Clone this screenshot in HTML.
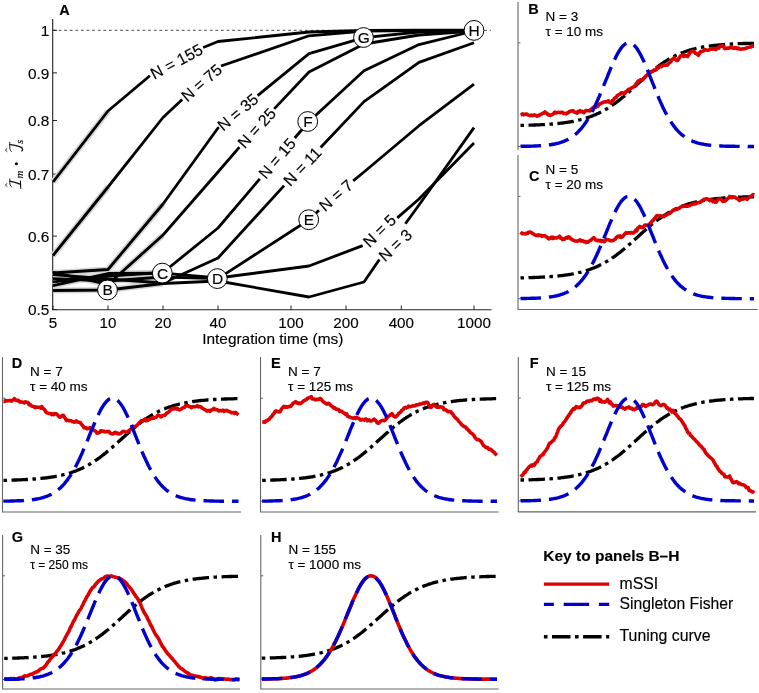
<!DOCTYPE html>
<html><head><meta charset="utf-8"><style>
html,body{margin:0;padding:0;background:#fff;width:759px;height:693px;overflow:hidden;}
svg{display:block;} text{stroke:#000;stroke-width:0.15px;} svg{font-family:"Liberation Sans", sans-serif;will-change:transform;}
</style></head><body>
<svg width="759" height="693" viewBox="0 0 759 693" font-family='"Liberation Sans", sans-serif' fill="#000">
<line x1="52.7" y1="19" x2="52.7" y2="310" stroke="#222" stroke-width="1.1"/>
<line x1="52.2" y1="309.8" x2="491.5" y2="309.8" stroke="#222" stroke-width="1.1"/>
<line x1="53" y1="30.3" x2="491" y2="30.3" stroke="#333" stroke-width="0.9" stroke-dasharray="2.7,2.9"/>
<line x1="52.7" y1="30.3" x2="57" y2="30.3" stroke="#222" stroke-width="1"/>
<text x="49.3" y="36.0" text-anchor="end" font-size="15.4">1</text>
<line x1="52.7" y1="72.9" x2="57" y2="72.9" stroke="#222" stroke-width="1"/>
<text x="49.3" y="78.6" text-anchor="end" font-size="15.4">0.9</text>
<line x1="52.7" y1="120.5" x2="57" y2="120.5" stroke="#222" stroke-width="1"/>
<text x="49.3" y="126.2" text-anchor="end" font-size="15.4">0.8</text>
<line x1="52.7" y1="174.1" x2="57" y2="174.1" stroke="#222" stroke-width="1"/>
<text x="49.3" y="179.8" text-anchor="end" font-size="15.4">0.7</text>
<line x1="52.7" y1="236.1" x2="57" y2="236.1" stroke="#222" stroke-width="1"/>
<text x="49.3" y="241.8" text-anchor="end" font-size="15.4">0.6</text>
<line x1="52.7" y1="309.5" x2="57" y2="309.5" stroke="#222" stroke-width="1"/>
<text x="49.3" y="315.2" text-anchor="end" font-size="15.4">0.5</text>
<line x1="53.0" y1="309.8" x2="53.0" y2="305.5" stroke="#222" stroke-width="1"/>
<text x="53.0" y="327.6" text-anchor="middle" font-size="15.2">5</text>
<line x1="108.0" y1="309.8" x2="108.0" y2="305.5" stroke="#222" stroke-width="1"/>
<text x="108.0" y="327.6" text-anchor="middle" font-size="15.2">10</text>
<line x1="163.0" y1="309.8" x2="163.0" y2="305.5" stroke="#222" stroke-width="1"/>
<text x="163.0" y="327.6" text-anchor="middle" font-size="15.2">20</text>
<line x1="218.0" y1="309.8" x2="218.0" y2="305.5" stroke="#222" stroke-width="1"/>
<text x="218.0" y="327.6" text-anchor="middle" font-size="15.2">40</text>
<line x1="291.0" y1="309.8" x2="291.0" y2="305.5" stroke="#222" stroke-width="1"/>
<text x="291.0" y="327.6" text-anchor="middle" font-size="15.2">100</text>
<line x1="346.0" y1="309.8" x2="346.0" y2="305.5" stroke="#222" stroke-width="1"/>
<text x="346.0" y="327.6" text-anchor="middle" font-size="15.2">200</text>
<line x1="401.3" y1="309.8" x2="401.3" y2="305.5" stroke="#222" stroke-width="1"/>
<text x="401.3" y="327.6" text-anchor="middle" font-size="15.2">400</text>
<line x1="474.0" y1="309.8" x2="474.0" y2="305.5" stroke="#222" stroke-width="1"/>
<text x="474.0" y="327.6" text-anchor="middle" font-size="15.2">1000</text>
<text x="272.8" y="344.3" text-anchor="middle" font-size="15.4">Integration time (ms)</text>
<text x="59.2" y="14.5" font-size="14.5" font-weight="bold">A</text>
<g transform="translate(21.2,188.6) rotate(-90)" fill="none" stroke="#111" stroke-linecap="round"><path d="M2.2,-14.2 L3.6,-15.8 L5.0,-14.2" stroke-width="0.9"/><path d="M1.8,-9.6 C2.2,-11.4 5.5,-11.6 9.6,-11.4" stroke-width="1.0"/><path d="M7.4,-11.2 C6.6,-7 5.6,-3.5 4.2,-0.6" stroke-width="1.3"/><path d="M0.2,-0.4 C3,-0.9 5.5,-0.6 7.6,-0.8" stroke-width="1.1"/></g>
<g transform="translate(21.2,188.6) rotate(-90)" font-family="'Liberation Serif', serif" font-style="italic"><text x="10.2" y="2.2" font-size="11">m</text><circle cx="24.8" cy="-4.8" r="1.5" fill="#000"/><text x="44.6" y="2.2" font-size="11">s</text></g>
<g transform="translate(21.2,188.6) rotate(-90)" fill="none" stroke="#111" stroke-linecap="round"><path d="M37.2,-14.2 L38.6,-15.8 L40.0,-14.2" stroke-width="0.9"/><path d="M37.0,-9.8 C37.6,-11.6 41.5,-11.6 46.3,-11.4" stroke-width="1.0"/><path d="M44.0,-11.3 C43.4,-7 42.6,-2.5 41.2,0.2 C40.2,1.6 38.2,1.6 37.6,0.6" stroke-width="1.3"/></g>
<polyline points="53.0,182.0 108.0,111.0" fill="none" stroke="#d4d4d4" stroke-width="6" stroke-linejoin="round"/>
<polyline points="53.0,255.5 108.0,187.0" fill="none" stroke="#d4d4d4" stroke-width="6" stroke-linejoin="round"/>
<polyline points="53.0,273.0 108.0,269.5 163.0,204.0" fill="none" stroke="#d4d4d4" stroke-width="6" stroke-linejoin="round"/>
<polyline points="53.0,272.3 108.0,284.5 163.0,235.0" fill="none" stroke="#d4d4d4" stroke-width="6" stroke-linejoin="round"/>
<polyline points="53.0,281.8 108.0,276.0 163.0,272.5" fill="none" stroke="#d4d4d4" stroke-width="6" stroke-linejoin="round"/>
<polyline points="53.0,274.6 108.0,279.0 163.0,283.0" fill="none" stroke="#d4d4d4" stroke-width="6" stroke-linejoin="round"/>
<polyline points="53.0,278.6 108.0,281.0 163.0,277.0" fill="none" stroke="#d4d4d4" stroke-width="6" stroke-linejoin="round"/>
<polyline points="53.0,285.7 108.0,273.5 163.0,273.1" fill="none" stroke="#d4d4d4" stroke-width="6" stroke-linejoin="round"/>
<polyline points="53.0,290.5 108.0,290.0 163.0,283.5" fill="none" stroke="#d4d4d4" stroke-width="6" stroke-linejoin="round"/>
<polyline points="53.0,182.0 108.0,111.0 149.9,75.8" fill="none" stroke="#000" stroke-width="2.8" stroke-linejoin="round"/>
<polyline points="203.2,47.5 218.0,41.5 309.0,32.0 364.0,30.5 419.0,30.2 474.0,30.4" fill="none" stroke="#000" stroke-width="2.8" stroke-linejoin="round"/>
<g transform="translate(176.6,61.6) rotate(-28.0)"><text x="0" y="5.5" text-anchor="middle" font-size="16">N = 155</text></g>
<polyline points="53.0,255.5 108.0,187.0 163.0,117.5 182.2,99.6" fill="none" stroke="#000" stroke-width="2.8" stroke-linejoin="round"/>
<polyline points="221.0,66.0 309.0,35.8 364.0,31.0 419.0,30.5 474.0,30.2" fill="none" stroke="#000" stroke-width="2.8" stroke-linejoin="round"/>
<g transform="translate(201.6,82.8) rotate(-40.9)"><text x="0" y="5.5" text-anchor="middle" font-size="16">N = 75</text></g>
<polyline points="53.0,273.0 108.0,269.5 163.0,204.0 218.0,128.0 218.2,128.9" fill="none" stroke="#000" stroke-width="2.8" stroke-linejoin="round"/>
<polyline points="257.6,95.6 309.0,53.6 364.0,37.7 419.0,32.0 474.0,30.5" fill="none" stroke="#000" stroke-width="2.8" stroke-linejoin="round"/>
<g transform="translate(237.9,112.2) rotate(-40.2)"><text x="0" y="5.5" text-anchor="middle" font-size="16">N = 35</text></g>
<polyline points="53.0,272.3 108.0,284.5 163.0,235.0 218.0,172.0 239.4,147.1" fill="none" stroke="#000" stroke-width="2.8" stroke-linejoin="round"/>
<polyline points="274.2,108.9 309.0,72.0 364.0,44.0 419.0,35.0 474.0,31.0" fill="none" stroke="#000" stroke-width="2.8" stroke-linejoin="round"/>
<g transform="translate(256.8,128.0) rotate(-47.7)"><text x="0" y="5.5" text-anchor="middle" font-size="16">N = 25</text></g>
<polyline points="53.0,281.8 108.0,276.0 163.0,272.5 218.0,228.0 259.8,178.9" fill="none" stroke="#000" stroke-width="2.8" stroke-linejoin="round"/>
<polyline points="294.7,138.0 309.0,121.5 364.0,70.7 419.0,44.6 474.0,31.0" fill="none" stroke="#000" stroke-width="2.8" stroke-linejoin="round"/>
<g transform="translate(277.2,158.4) rotate(-49.5)"><text x="0" y="5.5" text-anchor="middle" font-size="16">N = 15</text></g>
<polyline points="53.0,274.6 108.0,279.0 163.0,283.0 218.0,258.0 284.1,185.6" fill="none" stroke="#000" stroke-width="2.8" stroke-linejoin="round"/>
<polyline points="320.6,147.5 364.0,101.6 419.0,62.4 474.0,42.7" fill="none" stroke="#000" stroke-width="2.8" stroke-linejoin="round"/>
<g transform="translate(302.4,166.6) rotate(-46.2)"><text x="0" y="5.5" text-anchor="middle" font-size="16">N = 11</text></g>
<polyline points="53.0,278.6 108.0,281.0 163.0,277.0 218.0,278.6 309.0,219.7 319.0,210.2" fill="none" stroke="#000" stroke-width="2.8" stroke-linejoin="round"/>
<polyline points="353.2,180.8 364.0,172.0 419.0,125.7 474.0,84.2" fill="none" stroke="#000" stroke-width="2.8" stroke-linejoin="round"/>
<g transform="translate(336.1,195.5) rotate(-40.7)"><text x="0" y="5.5" text-anchor="middle" font-size="16">N = 7</text></g>
<polyline points="53.0,285.7 108.0,273.5 163.0,273.1 218.0,278.0 309.0,266.0 362.7,245.6" fill="none" stroke="#000" stroke-width="2.8" stroke-linejoin="round"/>
<polyline points="397.3,217.9 419.0,199.0 474.0,143.0" fill="none" stroke="#000" stroke-width="2.8" stroke-linejoin="round"/>
<g transform="translate(379.5,230.8) rotate(-44.0)"><text x="0" y="5.5" text-anchor="middle" font-size="16">N = 5</text></g>
<polyline points="53.0,290.5 108.0,290.0 163.0,283.5 218.0,281.0 309.0,297.0 364.0,282.0 379.4,259.5" fill="none" stroke="#000" stroke-width="2.8" stroke-linejoin="round"/>
<polyline points="405.4,223.7 419.0,205.0 474.0,127.6" fill="none" stroke="#000" stroke-width="2.8" stroke-linejoin="round"/>
<g transform="translate(395.3,245.3) rotate(-43.0)"><text x="0" y="5.5" text-anchor="middle" font-size="16">N = 3</text></g>
<circle cx="107.5" cy="290.0" r="9.9" fill="#fff" stroke="#000" stroke-width="1"/>
<text x="107.7" y="295.4" text-anchor="middle" font-size="15.5">B</text>
<circle cx="162.3" cy="273.1" r="9.9" fill="#fff" stroke="#000" stroke-width="1"/>
<text x="162.5" y="278.5" text-anchor="middle" font-size="15.5">C</text>
<circle cx="217.3" cy="278.6" r="9.9" fill="#fff" stroke="#000" stroke-width="1"/>
<text x="217.5" y="284.0" text-anchor="middle" font-size="15.5">D</text>
<circle cx="308.7" cy="219.7" r="9.9" fill="#fff" stroke="#000" stroke-width="1"/>
<text x="308.9" y="225.1" text-anchor="middle" font-size="15.5">E</text>
<circle cx="307.7" cy="121.5" r="9.9" fill="#fff" stroke="#000" stroke-width="1"/>
<text x="307.9" y="126.9" text-anchor="middle" font-size="15.5">F</text>
<circle cx="363.5" cy="37.5" r="9.9" fill="#fff" stroke="#000" stroke-width="1"/>
<text x="363.7" y="42.9" text-anchor="middle" font-size="15.5">G</text>
<circle cx="474.0" cy="30.4" r="9.9" fill="#fff" stroke="#000" stroke-width="1"/>
<text x="474.2" y="35.8" text-anchor="middle" font-size="15.5">H</text>
<line x1="518.0" y1="2.0" x2="518.0" y2="150.0" stroke="#666" stroke-width="1.1"/>
<line x1="518.0" y1="42.8" x2="520.5" y2="42.8" stroke="#666" stroke-width="1"/>
<line x1="518.0" y1="146.5" x2="520.5" y2="146.5" stroke="#666" stroke-width="1"/>
<text x="528.2" y="13.8" font-size="14.5" font-weight="bold">B</text>
<text x="545.6" y="20.6" font-size="13.5">N = 3</text>
<text x="545.6" y="36.3" font-size="13.5">τ = 10 ms</text>
<polyline points="520.5,125.4 521.5,125.4 522.5,125.4 523.4,125.3 524.4,125.3 525.4,125.3 526.4,125.3 527.3,125.2 528.3,125.2 529.3,125.2 530.3,125.1 531.2,125.1 532.2,125.1 533.2,125.1 534.2,125.0 535.2,125.0 536.1,124.9 537.1,124.9 538.1,124.9 539.1,124.8 540.0,124.8 541.0,124.7 542.0,124.7 543.0,124.6 543.9,124.6 544.9,124.5 545.9,124.4 546.9,124.4 547.9,124.3 548.8,124.3 549.8,124.2 550.8,124.1 551.8,124.0 552.7,124.0 553.7,123.9 554.7,123.8 555.7,123.7 556.6,123.6 557.6,123.5 558.6,123.4 559.6,123.3 560.6,123.2 561.5,123.1 562.5,123.0 563.5,122.8 564.5,122.7 565.4,122.6 566.4,122.4 567.4,122.3 568.4,122.1 569.3,122.0 570.3,121.8 571.3,121.6 572.3,121.5 573.3,121.3 574.2,121.1 575.2,120.9 576.2,120.7 577.2,120.5 578.1,120.2 579.1,120.0 580.1,119.8 581.1,119.5 582.1,119.3 583.0,119.0 584.0,118.7 585.0,118.4 586.0,118.1 586.9,117.8 587.9,117.5 588.9,117.2 589.9,116.8 590.8,116.5 591.8,116.1 592.8,115.7 593.8,115.3 594.8,114.9 595.7,114.5 596.7,114.1 597.7,113.6 598.7,113.2 599.6,112.7 600.6,112.2 601.6,111.7 602.6,111.2 603.5,110.7 604.5,110.1 605.5,109.6 606.5,109.0 607.5,108.4 608.4,107.8 609.4,107.2 610.4,106.5 611.4,105.9 612.3,105.2 613.3,104.5 614.3,103.8 615.3,103.1 616.2,102.4 617.2,101.7 618.2,100.9 619.2,100.1 620.2,99.4 621.1,98.6 622.1,97.8 623.1,97.0 624.1,96.2 625.0,95.3 626.0,94.5 627.0,93.6 628.0,92.8 628.9,91.9 629.9,91.0 630.9,90.1 631.9,89.3 632.9,88.4 633.8,87.5 634.8,86.6 635.8,85.7 636.8,84.8 637.7,83.9 638.7,83.0 639.7,82.1 640.7,81.2 641.6,80.3 642.6,79.4 643.6,78.5 644.6,77.6 645.6,76.8 646.5,75.9 647.5,75.0 648.5,74.2 649.5,73.3 650.4,72.5 651.4,71.7 652.4,70.9 653.4,70.1 654.3,69.3 655.3,68.5 656.3,67.8 657.3,67.0 658.3,66.3 659.2,65.5 660.2,64.8 661.2,64.1 662.2,63.5 663.1,62.8 664.1,62.1 665.1,61.5 666.1,60.9 667.0,60.3 668.0,59.7 669.0,59.1 670.0,58.6 671.0,58.0 671.9,57.5 672.9,57.0 673.9,56.5 674.9,56.0 675.8,55.5 676.8,55.0 677.8,54.6 678.8,54.2 679.7,53.7 680.7,53.3 681.7,52.9 682.7,52.6 683.7,52.2 684.6,51.8 685.6,51.5 686.6,51.2 687.6,50.8 688.5,50.5 689.5,50.2 690.5,49.9 691.5,49.7 692.4,49.4 693.4,49.1 694.4,48.9 695.4,48.7 696.4,48.4 697.3,48.2 698.3,48.0 699.3,47.8 700.3,47.6 701.2,47.4 702.2,47.2 703.2,47.0 704.2,46.9 705.2,46.7 706.1,46.5 707.1,46.4 708.1,46.2 709.1,46.1 710.0,46.0 711.0,45.8 712.0,45.7 713.0,45.6 713.9,45.5 714.9,45.4 715.9,45.3 716.9,45.2 717.9,45.1 718.8,45.0 719.8,44.9 720.8,44.8 721.8,44.7 722.7,44.6 723.7,44.6 724.7,44.5 725.7,44.4 726.6,44.3 727.6,44.3 728.6,44.2 729.6,44.2 730.6,44.1 731.5,44.0 732.5,44.0 733.5,43.9 734.5,43.9 735.4,43.9 736.4,43.8 737.4,43.8 738.4,43.7 739.3,43.7 740.3,43.6 741.3,43.6 742.3,43.6 743.3,43.5 744.2,43.5 745.2,43.5 746.2,43.5 747.2,43.4 748.1,43.4 749.1,43.4 750.1,43.4 751.1,43.3 752.0,43.3 753.0,43.3 754.0,43.3" fill="none" stroke="#000" stroke-width="3.3" stroke-dasharray="16.5,4.5,3.5,4.5" stroke-dashoffset="21"/>
<polyline points="520.5,114.9 521.5,114.6 522.5,113.8 523.4,114.8 524.4,114.2 525.4,114.3 526.4,114.0 527.3,114.4 528.3,115.1 529.3,115.4 530.3,115.6 531.2,115.0 532.2,115.6 533.2,115.4 534.2,114.9 535.2,115.2 536.1,115.5 537.1,116.1 538.1,115.7 539.1,115.5 540.0,114.4 541.0,114.2 542.0,113.9 543.0,113.1 543.9,113.0 544.9,111.9 545.9,113.0 546.9,113.4 547.9,114.8 548.8,114.5 549.8,115.3 550.8,115.4 551.8,114.7 552.7,114.4 553.7,113.5 554.7,112.1 555.7,113.0 556.6,112.8 557.6,112.5 558.6,112.3 559.6,112.6 560.6,112.6 561.5,112.3 562.5,112.4 563.5,113.4 564.5,113.3 565.4,113.6 566.4,113.9 567.4,112.8 568.4,112.8 569.3,111.5 570.3,111.4 571.3,111.0 572.3,110.8 573.3,110.7 574.2,112.1 575.2,112.4 576.2,112.5 577.2,113.1 578.1,111.3 579.1,111.8 580.1,110.6 581.1,111.7 582.1,111.4 583.0,112.1 584.0,112.6 585.0,111.0 586.0,110.5 586.9,110.7 587.9,110.8 588.9,110.7 589.9,110.9 590.8,109.4 591.8,109.0 592.8,107.7 593.8,107.1 594.8,107.0 595.7,107.3 596.7,106.3 597.7,106.4 598.7,104.9 599.6,104.2 600.6,103.5 601.6,103.0 602.6,102.7 603.5,102.1 604.5,102.0 605.5,101.7 606.5,101.9 607.5,101.4 608.4,100.8 609.4,102.2 610.4,102.9 611.4,102.3 612.3,100.6 613.3,100.4 614.3,98.5 615.3,97.7 616.2,97.4 617.2,95.6 618.2,95.1 619.2,94.4 620.2,94.1 621.1,92.9 622.1,93.0 623.1,92.9 624.1,93.4 625.0,93.5 626.0,91.4 627.0,91.2 628.0,89.8 628.9,89.2 629.9,88.9 630.9,88.6 631.9,87.7 632.9,87.4 633.8,86.7 634.8,85.9 635.8,84.4 636.8,83.2 637.7,81.8 638.7,80.7 639.7,80.6 640.7,79.7 641.6,79.7 642.6,80.0 643.6,78.7 644.6,77.5 645.6,76.4 646.5,75.3 647.5,74.8 648.5,72.8 649.5,72.9 650.4,71.9 651.4,71.9 652.4,71.6 653.4,70.7 654.3,69.9 655.3,70.2 656.3,69.6 657.3,67.9 658.3,68.0 659.2,67.0 660.2,66.1 661.2,66.7 662.2,66.4 663.1,65.0 664.1,65.0 665.1,65.2 666.1,65.1 667.0,65.3 668.0,64.6 669.0,63.0 670.0,62.4 671.0,61.6 671.9,59.7 672.9,59.0 673.9,57.9 674.9,59.1 675.8,59.7 676.8,60.6 677.8,60.3 678.8,58.4 679.7,57.5 680.7,55.7 681.7,55.6 682.7,54.9 683.7,56.4 684.6,55.5 685.6,55.9 686.6,55.9 687.6,56.6 688.5,55.1 689.5,53.3 690.5,52.3 691.5,51.2 692.4,51.6 693.4,51.3 694.4,52.0 695.4,53.3 696.4,53.3 697.3,54.3 698.3,55.3 699.3,53.4 700.3,51.8 701.2,51.6 702.2,51.5 703.2,51.0 704.2,49.8 705.2,49.8 706.1,50.0 707.1,50.2 708.1,50.3 709.1,49.9 710.0,49.4 711.0,49.1 712.0,49.1 713.0,48.5 713.9,49.1 714.9,48.5 715.9,49.5 716.9,48.6 717.9,48.0 718.8,48.1 719.8,46.4 720.8,46.0 721.8,46.4 722.7,45.6 723.7,46.5 724.7,48.6 725.7,48.2 726.6,48.5 727.6,48.1 728.6,48.2 729.6,47.6 730.6,47.8 731.5,47.5 732.5,48.1 733.5,48.4 734.5,47.5 735.4,48.1 736.4,47.8 737.4,48.8 738.4,48.0 739.3,48.8 740.3,49.1 741.3,49.0 742.3,49.0 743.3,48.7 744.2,48.7 745.2,48.6 746.2,48.3 747.2,47.5 748.1,47.5 749.1,47.3 750.1,47.1 751.1,46.9 752.0,45.8 753.0,46.2 754.0,46.3" fill="none" stroke="#dd0000" stroke-width="3.6" stroke-linejoin="round"/>
<polyline points="520.5,146.4 521.5,146.3 522.5,146.3 523.4,146.3 524.4,146.3 525.4,146.3 526.4,146.3 527.3,146.2 528.3,146.2 529.3,146.2 530.3,146.2 531.2,146.1 532.2,146.1 533.2,146.1 534.2,146.0 535.2,146.0 536.1,146.0 537.1,145.9 538.1,145.9 539.1,145.8 540.0,145.7 541.0,145.7 542.0,145.6 543.0,145.5 543.9,145.5 544.9,145.4 545.9,145.3 546.9,145.2 547.9,145.1 548.8,144.9 549.8,144.8 550.8,144.7 551.8,144.5 552.7,144.3 553.7,144.2 554.7,144.0 555.7,143.8 556.6,143.5 557.6,143.3 558.6,143.1 559.6,142.8 560.6,142.5 561.5,142.2 562.5,141.8 563.5,141.5 564.5,141.1 565.4,140.6 566.4,140.2 567.4,139.7 568.4,139.2 569.3,138.7 570.3,138.1 571.3,137.4 572.3,136.8 573.3,136.1 574.2,135.3 575.2,134.5 576.2,133.7 577.2,132.8 578.1,131.8 579.1,130.8 580.1,129.8 581.1,128.7 582.1,127.5 583.0,126.3 584.0,125.0 585.0,123.6 586.0,122.2 586.9,120.7 587.9,119.2 588.9,117.5 589.9,115.8 590.8,114.1 591.8,112.3 592.8,110.4 593.8,108.4 594.8,106.4 595.7,104.4 596.7,102.2 597.7,100.1 598.7,97.8 599.6,95.6 600.6,93.2 601.6,90.9 602.6,88.5 603.5,86.1 604.5,83.7 605.5,81.2 606.5,78.8 607.5,76.4 608.4,74.0 609.4,71.6 610.4,69.2 611.4,66.9 612.3,64.6 613.3,62.4 614.3,60.3 615.3,58.2 616.2,56.3 617.2,54.4 618.2,52.6 619.2,51.0 620.2,49.5 621.1,48.1 622.1,46.9 623.1,45.8 624.1,44.9 625.0,44.1 626.0,43.6 627.0,43.1 628.0,42.9 628.9,42.8 629.9,42.9 630.9,43.2 631.9,43.6 632.9,44.2 633.8,45.0 634.8,46.0 635.8,47.1 636.8,48.3 637.7,49.8 638.7,51.3 639.7,53.0 640.7,54.8 641.6,56.7 642.6,58.7 643.6,60.8 644.6,63.0 645.6,65.3 646.5,67.6 647.5,70.0 648.5,72.4 649.5,74.8 650.4,77.3 651.4,79.8 652.4,82.3 653.4,84.8 654.3,87.2 655.3,89.7 656.3,92.1 657.3,94.5 658.3,96.8 659.2,99.1 660.2,101.4 661.2,103.6 662.2,105.7 663.1,107.8 664.1,109.8 665.1,111.8 666.1,113.6 667.0,115.4 668.0,117.2 669.0,118.9 670.0,120.5 671.0,122.0 671.9,123.4 672.9,124.8 673.9,126.2 674.9,127.4 675.8,128.6 676.8,129.8 677.8,130.8 678.8,131.9 679.7,132.8 680.7,133.7 681.7,134.6 682.7,135.4 683.7,136.1 684.6,136.9 685.6,137.5 686.6,138.2 687.6,138.7 688.5,139.3 689.5,139.8 690.5,140.3 691.5,140.7 692.4,141.2 693.4,141.5 694.4,141.9 695.4,142.2 696.4,142.6 697.3,142.9 698.3,143.1 699.3,143.4 700.3,143.6 701.2,143.8 702.2,144.0 703.2,144.2 704.2,144.4 705.2,144.6 706.1,144.7 707.1,144.9 708.1,145.0 709.1,145.1 710.0,145.2 711.0,145.3 712.0,145.4 713.0,145.5 713.9,145.6 714.9,145.6 715.9,145.7 716.9,145.8 717.9,145.8 718.8,145.9 719.8,145.9 720.8,146.0 721.8,146.0 722.7,146.1 723.7,146.1 724.7,146.1 725.7,146.2 726.6,146.2 727.6,146.2 728.6,146.2 729.6,146.3 730.6,146.3 731.5,146.3 732.5,146.3 733.5,146.3 734.5,146.3 735.4,146.4 736.4,146.4 737.4,146.4 738.4,146.4 739.3,146.4 740.3,146.4 741.3,146.4 742.3,146.4 743.3,146.4 744.2,146.4 745.2,146.4 746.2,146.4 747.2,146.4 748.1,146.5 749.1,146.5 750.1,146.5 751.1,146.5 752.0,146.5 753.0,146.5 754.0,146.5" fill="none" stroke="#0000cc" stroke-width="3.4" stroke-dasharray="20.5,8" stroke-dashoffset="0"/>
<line x1="518.0" y1="155.0" x2="518.0" y2="309.5" stroke="#666" stroke-width="1.1"/>
<line x1="517.5" y1="309.5" x2="757.5" y2="309.5" stroke="#666" stroke-width="1.1"/>
<line x1="518.0" y1="196.3" x2="520.5" y2="196.3" stroke="#666" stroke-width="1"/>
<line x1="518.0" y1="298.7" x2="520.5" y2="298.7" stroke="#666" stroke-width="1"/>
<text x="529.0" y="180.6" font-size="14.5" font-weight="bold">C</text>
<text x="545.6" y="173.6" font-size="13.5">N = 5</text>
<text x="545.6" y="189.3" font-size="13.5">τ = 20 ms</text>
<polyline points="520.5,277.9 521.5,277.8 522.5,277.8 523.4,277.8 524.4,277.8 525.4,277.8 526.4,277.7 527.3,277.7 528.3,277.7 529.3,277.6 530.3,277.6 531.2,277.6 532.2,277.6 533.2,277.5 534.2,277.5 535.2,277.4 536.1,277.4 537.1,277.4 538.1,277.3 539.1,277.3 540.0,277.2 541.0,277.2 542.0,277.1 543.0,277.1 543.9,277.0 544.9,277.0 545.9,276.9 546.9,276.9 547.9,276.8 548.8,276.7 549.8,276.7 550.8,276.6 551.8,276.5 552.7,276.4 553.7,276.4 554.7,276.3 555.7,276.2 556.6,276.1 557.6,276.0 558.6,275.9 559.6,275.8 560.6,275.7 561.5,275.6 562.5,275.5 563.5,275.3 564.5,275.2 565.4,275.1 566.4,274.9 567.4,274.8 568.4,274.6 569.3,274.5 570.3,274.3 571.3,274.2 572.3,274.0 573.3,273.8 574.2,273.6 575.2,273.4 576.2,273.2 577.2,273.0 578.1,272.8 579.1,272.5 580.1,272.3 581.1,272.1 582.1,271.8 583.0,271.5 584.0,271.3 585.0,271.0 586.0,270.7 586.9,270.4 587.9,270.1 588.9,269.7 589.9,269.4 590.8,269.0 591.8,268.7 592.8,268.3 593.8,267.9 594.8,267.5 595.7,267.1 596.7,266.7 597.7,266.2 598.7,265.8 599.6,265.3 600.6,264.8 601.6,264.3 602.6,263.8 603.5,263.3 604.5,262.8 605.5,262.2 606.5,261.6 607.5,261.1 608.4,260.5 609.4,259.9 610.4,259.2 611.4,258.6 612.3,257.9 613.3,257.3 614.3,256.6 615.3,255.9 616.2,255.2 617.2,254.4 618.2,253.7 619.2,252.9 620.2,252.2 621.1,251.4 622.1,250.6 623.1,249.8 624.1,249.0 625.0,248.2 626.0,247.3 627.0,246.5 628.0,245.6 628.9,244.8 629.9,243.9 630.9,243.1 631.9,242.2 632.9,241.3 633.8,240.4 634.8,239.5 635.8,238.6 636.8,237.8 637.7,236.9 638.7,236.0 639.7,235.1 640.7,234.2 641.6,233.3 642.6,232.4 643.6,231.6 644.6,230.7 645.6,229.8 646.5,229.0 647.5,228.1 648.5,227.3 649.5,226.5 650.4,225.6 651.4,224.8 652.4,224.0 653.4,223.2 654.3,222.5 655.3,221.7 656.3,220.9 657.3,220.2 658.3,219.5 659.2,218.8 660.2,218.1 661.2,217.4 662.2,216.7 663.1,216.0 664.1,215.4 665.1,214.8 666.1,214.2 667.0,213.6 668.0,213.0 669.0,212.4 670.0,211.9 671.0,211.3 671.9,210.8 672.9,210.3 673.9,209.8 674.9,209.3 675.8,208.8 676.8,208.4 677.8,207.9 678.8,207.5 679.7,207.1 680.7,206.7 681.7,206.3 682.7,205.9 683.7,205.6 684.6,205.2 685.6,204.9 686.6,204.6 687.6,204.2 688.5,203.9 689.5,203.6 690.5,203.4 691.5,203.1 692.4,202.8 693.4,202.6 694.4,202.3 695.4,202.1 696.4,201.8 697.3,201.6 698.3,201.4 699.3,201.2 700.3,201.0 701.2,200.8 702.2,200.6 703.2,200.5 704.2,200.3 705.2,200.1 706.1,200.0 707.1,199.8 708.1,199.7 709.1,199.6 710.0,199.4 711.0,199.3 712.0,199.2 713.0,199.1 713.9,198.9 714.9,198.8 715.9,198.7 716.9,198.6 717.9,198.5 718.8,198.4 719.8,198.4 720.8,198.3 721.8,198.2 722.7,198.1 723.7,198.0 724.7,198.0 725.7,197.9 726.6,197.8 727.6,197.8 728.6,197.7 729.6,197.6 730.6,197.6 731.5,197.5 732.5,197.5 733.5,197.4 734.5,197.4 735.4,197.3 736.4,197.3 737.4,197.3 738.4,197.2 739.3,197.2 740.3,197.1 741.3,197.1 742.3,197.1 743.3,197.0 744.2,197.0 745.2,197.0 746.2,196.9 747.2,196.9 748.1,196.9 749.1,196.9 750.1,196.8 751.1,196.8 752.0,196.8 753.0,196.8 754.0,196.8" fill="none" stroke="#000" stroke-width="3.3" stroke-dasharray="16.5,4.5,3.5,4.5" stroke-dashoffset="21"/>
<polyline points="520.5,232.2 521.5,233.0 522.5,233.6 523.4,233.6 524.4,233.8 525.4,234.0 526.4,233.2 527.3,233.5 528.3,232.3 529.3,232.2 530.3,232.0 531.2,232.7 532.2,232.9 533.2,233.9 534.2,234.7 535.2,234.9 536.1,235.4 537.1,235.6 538.1,234.8 539.1,235.4 540.0,235.4 541.0,235.2 542.0,236.4 543.0,236.1 543.9,235.7 544.9,235.7 545.9,236.8 546.9,237.0 547.9,238.2 548.8,239.0 549.8,238.5 550.8,237.4 551.8,237.1 552.7,238.4 553.7,237.4 554.7,238.1 555.7,237.9 556.6,238.0 557.6,237.4 558.6,237.2 559.6,236.2 560.6,238.1 561.5,238.1 562.5,239.6 563.5,238.9 564.5,239.2 565.4,238.3 566.4,237.4 567.4,238.1 568.4,236.9 569.3,237.0 570.3,238.4 571.3,239.0 572.3,239.8 573.3,240.2 574.2,240.6 575.2,241.0 576.2,241.0 577.2,241.1 578.1,241.0 579.1,240.3 580.1,239.8 581.1,241.0 582.1,240.6 583.0,241.0 584.0,241.6 585.0,241.4 586.0,242.4 586.9,241.8 587.9,242.2 588.9,241.1 589.9,240.8 590.8,240.3 591.8,239.1 592.8,238.6 593.8,237.7 594.8,238.8 595.7,240.1 596.7,240.5 597.7,240.7 598.7,240.2 599.6,240.9 600.6,240.4 601.6,241.3 602.6,240.6 603.5,241.5 604.5,241.7 605.5,240.4 606.5,239.3 607.5,239.7 608.4,239.8 609.4,240.2 610.4,240.8 611.4,240.5 612.3,240.8 613.3,240.4 614.3,239.6 615.3,239.2 616.2,237.5 617.2,236.9 618.2,236.0 619.2,236.8 620.2,235.9 621.1,237.4 622.1,236.9 623.1,235.9 624.1,234.8 625.0,233.8 626.0,232.6 627.0,233.3 628.0,233.1 628.9,232.7 629.9,233.1 630.9,232.5 631.9,232.7 632.9,233.1 633.8,232.7 634.8,231.7 635.8,230.2 636.8,230.8 637.7,228.2 638.7,227.5 639.7,226.4 640.7,227.3 641.6,227.1 642.6,227.6 643.6,226.8 644.6,225.3 645.6,225.0 646.5,225.1 647.5,225.0 648.5,225.1 649.5,224.3 650.4,223.0 651.4,222.0 652.4,220.9 653.4,220.3 654.3,218.8 655.3,217.7 656.3,216.1 657.3,215.5 658.3,216.0 659.2,216.0 660.2,215.7 661.2,216.2 662.2,216.5 663.1,216.5 664.1,216.6 665.1,215.4 666.1,215.2 667.0,214.6 668.0,214.1 669.0,213.7 670.0,213.2 671.0,212.2 671.9,211.5 672.9,210.4 673.9,209.8 674.9,210.0 675.8,209.2 676.8,209.5 677.8,208.8 678.8,208.1 679.7,208.3 680.7,206.9 681.7,206.6 682.7,206.4 683.7,206.2 684.6,206.0 685.6,206.3 686.6,206.0 687.6,206.1 688.5,205.6 689.5,205.7 690.5,204.8 691.5,204.5 692.4,204.3 693.4,204.0 694.4,203.3 695.4,204.0 696.4,203.0 697.3,203.0 698.3,202.8 699.3,202.3 700.3,202.2 701.2,201.6 702.2,200.6 703.2,200.0 704.2,199.3 705.2,199.3 706.1,198.7 707.1,198.8 708.1,199.3 709.1,199.8 710.0,200.6 711.0,199.7 712.0,200.2 713.0,201.6 713.9,200.9 714.9,202.2 715.9,202.3 716.9,201.1 717.9,199.3 718.8,199.0 719.8,198.9 720.8,199.1 721.8,200.0 722.7,201.4 723.7,201.1 724.7,201.2 725.7,200.7 726.6,199.6 727.6,198.7 728.6,197.8 729.6,196.5 730.6,197.3 731.5,197.0 732.5,196.7 733.5,196.9 734.5,197.0 735.4,197.6 736.4,198.2 737.4,198.5 738.4,199.6 739.3,200.5 740.3,199.9 741.3,199.5 742.3,198.8 743.3,199.1 744.2,198.4 745.2,198.6 746.2,198.8 747.2,199.4 748.1,198.0 749.1,197.0 750.1,196.6 751.1,196.4 752.0,195.5 753.0,194.5 754.0,195.2" fill="none" stroke="#dd0000" stroke-width="3.6" stroke-linejoin="round"/>
<polyline points="520.5,298.6 521.5,298.5 522.5,298.5 523.4,298.5 524.4,298.5 525.4,298.5 526.4,298.5 527.3,298.4 528.3,298.4 529.3,298.4 530.3,298.4 531.2,298.3 532.2,298.3 533.2,298.3 534.2,298.2 535.2,298.2 536.1,298.2 537.1,298.1 538.1,298.1 539.1,298.0 540.0,298.0 541.0,297.9 542.0,297.8 543.0,297.7 543.9,297.7 544.9,297.6 545.9,297.5 546.9,297.4 547.9,297.3 548.8,297.2 549.8,297.0 550.8,296.9 551.8,296.7 552.7,296.6 553.7,296.4 554.7,296.2 555.7,296.0 556.6,295.8 557.6,295.5 558.6,295.3 559.6,295.0 560.6,294.7 561.5,294.4 562.5,294.1 563.5,293.7 564.5,293.3 565.4,292.9 566.4,292.5 567.4,292.0 568.4,291.5 569.3,290.9 570.3,290.4 571.3,289.8 572.3,289.1 573.3,288.4 574.2,287.7 575.2,286.9 576.2,286.0 577.2,285.2 578.1,284.2 579.1,283.2 580.1,282.2 581.1,281.1 582.1,279.9 583.0,278.7 584.0,277.4 585.0,276.1 586.0,274.7 586.9,273.2 587.9,271.7 588.9,270.1 589.9,268.4 590.8,266.7 591.8,264.9 592.8,263.0 593.8,261.1 594.8,259.1 595.7,257.1 596.7,255.0 597.7,252.8 598.7,250.6 599.6,248.4 600.6,246.1 601.6,243.8 602.6,241.4 603.5,239.1 604.5,236.7 605.5,234.3 606.5,231.9 607.5,229.5 608.4,227.1 609.4,224.7 610.4,222.4 611.4,220.1 612.3,217.9 613.3,215.7 614.3,213.6 615.3,211.5 616.2,209.6 617.2,207.8 618.2,206.0 619.2,204.4 620.2,202.9 621.1,201.6 622.1,200.4 623.1,199.3 624.1,198.4 625.0,197.6 626.0,197.0 627.0,196.6 628.0,196.4 628.9,196.3 629.9,196.4 630.9,196.7 631.9,197.1 632.9,197.7 633.8,198.5 634.8,199.4 635.8,200.5 636.8,201.8 637.7,203.2 638.7,204.7 639.7,206.4 640.7,208.1 641.6,210.0 642.6,212.0 643.6,214.1 644.6,216.2 645.6,218.5 646.5,220.8 647.5,223.1 648.5,225.5 649.5,227.9 650.4,230.4 651.4,232.8 652.4,235.3 653.4,237.7 654.3,240.2 655.3,242.6 656.3,245.0 657.3,247.3 658.3,249.7 659.2,251.9 660.2,254.2 661.2,256.3 662.2,258.4 663.1,260.5 664.1,262.5 665.1,264.4 666.1,266.2 667.0,268.0 668.0,269.8 669.0,271.4 670.0,273.0 671.0,274.5 671.9,275.9 672.9,277.3 673.9,278.6 674.9,279.9 675.8,281.1 676.8,282.2 677.8,283.2 678.8,284.2 679.7,285.2 680.7,286.1 681.7,286.9 682.7,287.7 683.7,288.5 684.6,289.2 685.6,289.8 686.6,290.5 687.6,291.0 688.5,291.6 689.5,292.1 690.5,292.6 691.5,293.0 692.4,293.4 693.4,293.8 694.4,294.2 695.4,294.5 696.4,294.8 697.3,295.1 698.3,295.4 699.3,295.6 700.3,295.9 701.2,296.1 702.2,296.3 703.2,296.5 704.2,296.6 705.2,296.8 706.1,296.9 707.1,297.1 708.1,297.2 709.1,297.3 710.0,297.4 711.0,297.5 712.0,297.6 713.0,297.7 713.9,297.8 714.9,297.9 715.9,297.9 716.9,298.0 717.9,298.0 718.8,298.1 719.8,298.1 720.8,298.2 721.8,298.2 722.7,298.3 723.7,298.3 724.7,298.3 725.7,298.4 726.6,298.4 727.6,298.4 728.6,298.4 729.6,298.5 730.6,298.5 731.5,298.5 732.5,298.5 733.5,298.5 734.5,298.5 735.4,298.6 736.4,298.6 737.4,298.6 738.4,298.6 739.3,298.6 740.3,298.6 741.3,298.6 742.3,298.6 743.3,298.6 744.2,298.6 745.2,298.6 746.2,298.6 747.2,298.6 748.1,298.7 749.1,298.7 750.1,298.7 751.1,298.7 752.0,298.7 753.0,298.7 754.0,298.7" fill="none" stroke="#0000cc" stroke-width="3.4" stroke-dasharray="20.5,8" stroke-dashoffset="0"/>
<line x1="2.5" y1="357.0" x2="2.5" y2="512.0" stroke="#666" stroke-width="1.1"/>
<line x1="2.0" y1="512.0" x2="241.0" y2="512.0" stroke="#666" stroke-width="1.1"/>
<line x1="2.5" y1="398.2" x2="5.0" y2="398.2" stroke="#666" stroke-width="1"/>
<line x1="2.5" y1="501.3" x2="5.0" y2="501.3" stroke="#666" stroke-width="1"/>
<text x="11.8" y="368.0" font-size="14.5" font-weight="bold">D</text>
<text x="30.1" y="375.6" font-size="13.5">N = 7</text>
<text x="30.1" y="391.3" font-size="13.5">τ = 40 ms</text>
<polyline points="3.5,480.3 4.5,480.3 5.5,480.3 6.4,480.3 7.4,480.2 8.4,480.2 9.4,480.2 10.4,480.2 11.4,480.1 12.3,480.1 13.3,480.1 14.3,480.0 15.3,480.0 16.3,480.0 17.3,479.9 18.2,479.9 19.2,479.9 20.2,479.8 21.2,479.8 22.2,479.7 23.2,479.7 24.1,479.6 25.1,479.6 26.1,479.5 27.1,479.5 28.1,479.4 29.1,479.4 30.0,479.3 31.0,479.2 32.0,479.2 33.0,479.1 34.0,479.0 35.0,479.0 35.9,478.9 36.9,478.8 37.9,478.7 38.9,478.6 39.9,478.5 40.9,478.4 41.8,478.3 42.8,478.2 43.8,478.1 44.8,478.0 45.8,477.9 46.8,477.8 47.7,477.6 48.7,477.5 49.7,477.4 50.7,477.2 51.7,477.1 52.7,476.9 53.6,476.8 54.6,476.6 55.6,476.4 56.6,476.2 57.6,476.0 58.6,475.8 59.5,475.6 60.5,475.4 61.5,475.2 62.5,475.0 63.5,474.7 64.5,474.5 65.4,474.2 66.4,474.0 67.4,473.7 68.4,473.4 69.4,473.1 70.4,472.8 71.3,472.5 72.3,472.1 73.3,471.8 74.3,471.4 75.3,471.1 76.3,470.7 77.2,470.3 78.2,469.9 79.2,469.5 80.2,469.1 81.2,468.6 82.2,468.2 83.1,467.7 84.1,467.2 85.1,466.7 86.1,466.2 87.1,465.7 88.1,465.1 89.0,464.6 90.0,464.0 91.0,463.4 92.0,462.8 93.0,462.2 94.0,461.6 94.9,460.9 95.9,460.2 96.9,459.6 97.9,458.9 98.9,458.2 99.9,457.5 100.8,456.7 101.8,456.0 102.8,455.2 103.8,454.4 104.8,453.7 105.8,452.9 106.7,452.1 107.7,451.2 108.7,450.4 109.7,449.6 110.7,448.7 111.7,447.9 112.6,447.0 113.6,446.1 114.6,445.3 115.6,444.4 116.6,443.5 117.6,442.6 118.5,441.7 119.5,440.8 120.5,439.9 121.5,439.0 122.5,438.1 123.5,437.3 124.4,436.4 125.4,435.5 126.4,434.6 127.4,433.7 128.4,432.8 129.4,432.0 130.3,431.1 131.3,430.3 132.3,429.4 133.3,428.6 134.3,427.7 135.3,426.9 136.2,426.1 137.2,425.3 138.2,424.5 139.2,423.8 140.2,423.0 141.2,422.3 142.1,421.5 143.1,420.8 144.1,420.1 145.1,419.4 146.1,418.7 147.1,418.1 148.0,417.4 149.0,416.8 150.0,416.2 151.0,415.6 152.0,415.0 153.0,414.4 153.9,413.9 154.9,413.3 155.9,412.8 156.9,412.3 157.9,411.8 158.9,411.3 159.8,410.8 160.8,410.4 161.8,409.9 162.8,409.5 163.8,409.1 164.8,408.7 165.7,408.3 166.7,407.9 167.7,407.5 168.7,407.2 169.7,406.8 170.7,406.5 171.6,406.2 172.6,405.9 173.6,405.6 174.6,405.3 175.6,405.0 176.6,404.8 177.5,404.5 178.5,404.3 179.5,404.0 180.5,403.8 181.5,403.6 182.5,403.4 183.4,403.1 184.4,402.9 185.4,402.8 186.4,402.6 187.4,402.4 188.4,402.2 189.3,402.1 190.3,401.9 191.3,401.8 192.3,401.6 193.3,401.5 194.3,401.3 195.2,401.2 196.2,401.1 197.2,401.0 198.2,400.9 199.2,400.7 200.2,400.6 201.1,400.5 202.1,400.4 203.1,400.4 204.1,400.3 205.1,400.2 206.1,400.1 207.0,400.0 208.0,399.9 209.0,399.9 210.0,399.8 211.0,399.7 212.0,399.7 212.9,399.6 213.9,399.5 214.9,399.5 215.9,399.4 216.9,399.4 217.9,399.3 218.8,399.3 219.8,399.2 220.8,399.2 221.8,399.2 222.8,399.1 223.8,399.1 224.7,399.0 225.7,399.0 226.7,399.0 227.7,398.9 228.7,398.9 229.7,398.9 230.6,398.9 231.6,398.8 232.6,398.8 233.6,398.8 234.6,398.7 235.6,398.7 236.5,398.7 237.5,398.7 238.5,398.7" fill="none" stroke="#000" stroke-width="3.3" stroke-dasharray="16.5,4.5,3.5,4.5" stroke-dashoffset="21"/>
<polyline points="3.5,401.4 4.5,401.5 5.5,400.4 6.4,400.7 7.4,400.9 8.4,400.8 9.4,400.7 10.4,400.4 11.4,401.1 12.3,400.6 13.3,400.0 14.3,398.6 15.3,399.6 16.3,400.4 17.3,400.4 18.2,400.2 19.2,401.6 20.2,402.1 21.2,401.8 22.2,402.2 23.2,402.2 24.1,402.8 25.1,401.9 26.1,402.0 27.1,402.5 28.1,402.6 29.1,404.6 30.0,404.4 31.0,405.7 32.0,406.1 33.0,406.2 34.0,406.8 35.0,407.6 35.9,406.8 36.9,407.3 37.9,407.2 38.9,407.4 39.9,407.3 40.9,408.1 41.8,406.6 42.8,408.0 43.8,409.0 44.8,409.9 45.8,411.8 46.8,412.9 47.7,413.0 48.7,413.5 49.7,413.5 50.7,413.5 51.7,414.7 52.7,413.9 53.6,414.6 54.6,413.7 55.6,413.7 56.6,414.2 57.6,415.0 58.6,416.1 59.5,417.0 60.5,417.2 61.5,416.3 62.5,415.2 63.5,415.5 64.5,417.1 65.4,418.6 66.4,420.5 67.4,419.9 68.4,420.6 69.4,420.6 70.4,420.8 71.3,420.9 72.3,421.5 73.3,421.7 74.3,422.2 75.3,421.9 76.3,420.8 77.2,421.8 78.2,422.2 79.2,422.2 80.2,422.4 81.2,424.0 82.2,425.1 83.1,426.1 84.1,427.8 85.1,428.0 86.1,427.6 87.1,428.7 88.1,428.4 89.0,428.6 90.0,427.6 91.0,429.0 92.0,429.1 93.0,429.8 94.0,430.1 94.9,430.9 95.9,431.3 96.9,433.2 97.9,432.8 98.9,432.9 99.9,432.2 100.8,430.8 101.8,430.7 102.8,431.5 103.8,431.1 104.8,432.0 105.8,431.8 106.7,431.5 107.7,431.7 108.7,431.3 109.7,432.6 110.7,433.6 111.7,433.8 112.6,434.0 113.6,433.6 114.6,432.5 115.6,432.4 116.6,433.5 117.6,433.0 118.5,433.9 119.5,433.9 120.5,433.4 121.5,432.4 122.5,431.7 123.5,431.2 124.4,431.8 125.4,432.0 126.4,432.1 127.4,432.2 128.4,431.1 129.4,430.5 130.3,429.4 131.3,429.1 132.3,426.8 133.3,426.4 134.3,426.7 135.3,426.7 136.2,425.9 137.2,425.1 138.2,424.2 139.2,422.7 140.2,421.9 141.2,420.8 142.1,421.0 143.1,420.3 144.1,419.7 145.1,419.1 146.1,420.7 147.1,420.6 148.0,420.3 149.0,419.0 150.0,419.1 151.0,418.3 152.0,418.0 153.0,418.3 153.9,418.2 154.9,417.5 155.9,417.4 156.9,416.4 157.9,415.2 158.9,415.3 159.8,415.8 160.8,416.9 161.8,416.4 162.8,415.5 163.8,415.3 164.8,415.2 165.7,414.6 166.7,413.1 167.7,412.6 168.7,412.0 169.7,411.1 170.7,409.5 171.6,409.2 172.6,408.5 173.6,408.9 174.6,408.1 175.6,408.7 176.6,408.9 177.5,408.3 178.5,409.5 179.5,409.9 180.5,409.3 181.5,408.8 182.5,408.0 183.4,407.8 184.4,407.5 185.4,406.0 186.4,405.7 187.4,406.0 188.4,405.8 189.3,406.6 190.3,406.6 191.3,407.6 192.3,407.0 193.3,406.6 194.3,406.8 195.2,406.7 196.2,406.4 197.2,405.7 198.2,406.9 199.2,406.5 200.2,406.5 201.1,407.0 202.1,408.2 203.1,408.6 204.1,409.4 205.1,409.7 206.1,410.3 207.0,411.1 208.0,410.7 209.0,410.4 210.0,411.3 211.0,410.6 212.0,409.6 212.9,409.6 213.9,408.4 214.9,409.6 215.9,409.4 216.9,409.7 217.9,410.2 218.8,411.0 219.8,410.6 220.8,410.8 221.8,410.8 222.8,410.2 223.8,411.4 224.7,410.5 225.7,410.9 226.7,410.3 227.7,410.8 228.7,411.6 229.7,411.8 230.6,412.1 231.6,412.9 232.6,412.5 233.6,412.8 234.6,413.3 235.6,412.4 236.5,413.2 237.5,414.1 238.5,414.8" fill="none" stroke="#dd0000" stroke-width="3.6" stroke-linejoin="round"/>
<polyline points="3.5,501.2 4.5,501.1 5.5,501.1 6.4,501.1 7.4,501.1 8.4,501.1 9.4,501.1 10.4,501.0 11.4,501.0 12.3,501.0 13.3,501.0 14.3,500.9 15.3,500.9 16.3,500.9 17.3,500.8 18.2,500.8 19.2,500.8 20.2,500.7 21.2,500.7 22.2,500.6 23.2,500.6 24.1,500.5 25.1,500.4 26.1,500.3 27.1,500.3 28.1,500.2 29.1,500.1 30.0,500.0 31.0,499.9 32.0,499.7 33.0,499.6 34.0,499.5 35.0,499.3 35.9,499.2 36.9,499.0 37.9,498.8 38.9,498.6 39.9,498.4 40.9,498.1 41.8,497.9 42.8,497.6 43.8,497.3 44.8,497.0 45.8,496.6 46.8,496.3 47.7,495.9 48.7,495.5 49.7,495.0 50.7,494.6 51.7,494.0 52.7,493.5 53.6,492.9 54.6,492.3 55.6,491.6 56.6,490.9 57.6,490.2 58.6,489.4 59.5,488.6 60.5,487.7 61.5,486.7 62.5,485.7 63.5,484.7 64.5,483.6 65.4,482.4 66.4,481.2 67.4,479.9 68.4,478.6 69.4,477.1 70.4,475.7 71.3,474.1 72.3,472.5 73.3,470.8 74.3,469.1 75.3,467.3 76.3,465.4 77.2,463.5 78.2,461.5 79.2,459.4 80.2,457.3 81.2,455.1 82.2,452.9 83.1,450.7 84.1,448.4 85.1,446.0 86.1,443.6 87.1,441.3 88.1,438.8 89.0,436.4 90.0,434.0 91.0,431.6 92.0,429.2 93.0,426.8 94.0,424.5 94.9,422.2 95.9,419.9 96.9,417.7 97.9,415.6 98.9,413.5 99.9,411.6 100.8,409.7 101.8,408.0 102.8,406.4 103.8,404.9 104.8,403.5 105.8,402.3 106.7,401.2 107.7,400.3 108.7,399.5 109.7,398.9 110.7,398.5 111.7,398.3 112.6,398.2 113.6,398.3 114.6,398.6 115.6,399.0 116.6,399.6 117.6,400.4 118.5,401.4 119.5,402.5 120.5,403.7 121.5,405.1 122.5,406.7 123.5,408.3 124.4,410.1 125.4,412.0 126.4,414.0 127.4,416.1 128.4,418.3 129.4,420.5 130.3,422.8 131.3,425.2 132.3,427.6 133.3,430.1 134.3,432.5 135.3,435.0 136.2,437.5 137.2,439.9 138.2,442.4 139.2,444.8 140.2,447.2 141.2,449.6 142.1,451.9 143.1,454.2 144.1,456.5 145.1,458.6 146.1,460.8 147.1,462.8 148.0,464.8 149.0,466.8 150.0,468.6 151.0,470.4 152.0,472.2 153.0,473.8 153.9,475.4 154.9,476.9 155.9,478.4 156.9,479.8 157.9,481.1 158.9,482.3 159.8,483.5 160.8,484.7 161.8,485.7 162.8,486.7 163.8,487.7 164.8,488.6 165.7,489.5 166.7,490.3 167.7,491.0 168.7,491.7 169.7,492.4 170.7,493.0 171.6,493.6 172.6,494.1 173.6,494.6 174.6,495.1 175.6,495.6 176.6,496.0 177.5,496.4 178.5,496.7 179.5,497.1 180.5,497.4 181.5,497.7 182.5,497.9 183.4,498.2 184.4,498.4 185.4,498.7 186.4,498.9 187.4,499.0 188.4,499.2 189.3,499.4 190.3,499.5 191.3,499.7 192.3,499.8 193.3,499.9 194.3,500.0 195.2,500.1 196.2,500.2 197.2,500.3 198.2,500.4 199.2,500.4 200.2,500.5 201.1,500.6 202.1,500.6 203.1,500.7 204.1,500.7 205.1,500.8 206.1,500.8 207.0,500.9 208.0,500.9 209.0,500.9 210.0,501.0 211.0,501.0 212.0,501.0 212.9,501.0 213.9,501.1 214.9,501.1 215.9,501.1 216.9,501.1 217.9,501.1 218.8,501.1 219.8,501.2 220.8,501.2 221.8,501.2 222.8,501.2 223.8,501.2 224.7,501.2 225.7,501.2 226.7,501.2 227.7,501.2 228.7,501.2 229.7,501.2 230.6,501.2 231.6,501.2 232.6,501.3 233.6,501.3 234.6,501.3 235.6,501.3 236.5,501.3 237.5,501.3 238.5,501.3" fill="none" stroke="#0000cc" stroke-width="3.4" stroke-dasharray="20.5,8" stroke-dashoffset="0"/>
<line x1="260.5" y1="357.0" x2="260.5" y2="512.0" stroke="#666" stroke-width="1.1"/>
<line x1="260.0" y1="512.0" x2="498.5" y2="512.0" stroke="#666" stroke-width="1.1"/>
<line x1="260.5" y1="398.2" x2="263.0" y2="398.2" stroke="#666" stroke-width="1"/>
<line x1="260.5" y1="501.3" x2="263.0" y2="501.3" stroke="#666" stroke-width="1"/>
<text x="271.1" y="367.9" font-size="14.5" font-weight="bold">E</text>
<text x="288.1" y="375.6" font-size="13.5">N = 7</text>
<text x="288.1" y="391.3" font-size="13.5">τ = 125 ms</text>
<polyline points="262.2,480.3 263.2,480.3 264.2,480.3 265.1,480.3 266.1,480.2 267.1,480.2 268.1,480.2 269.1,480.2 270.1,480.1 271.0,480.1 272.0,480.1 273.0,480.0 274.0,480.0 275.0,480.0 276.0,479.9 276.9,479.9 277.9,479.9 278.9,479.8 279.9,479.8 280.9,479.7 281.8,479.7 282.8,479.6 283.8,479.6 284.8,479.5 285.8,479.5 286.8,479.4 287.7,479.4 288.7,479.3 289.7,479.2 290.7,479.2 291.7,479.1 292.7,479.0 293.6,479.0 294.6,478.9 295.6,478.8 296.6,478.7 297.6,478.6 298.5,478.5 299.5,478.4 300.5,478.3 301.5,478.2 302.5,478.1 303.5,478.0 304.4,477.9 305.4,477.8 306.4,477.6 307.4,477.5 308.4,477.4 309.4,477.2 310.3,477.1 311.3,476.9 312.3,476.8 313.3,476.6 314.3,476.4 315.3,476.2 316.2,476.0 317.2,475.8 318.2,475.6 319.2,475.4 320.2,475.2 321.1,475.0 322.1,474.7 323.1,474.5 324.1,474.2 325.1,474.0 326.1,473.7 327.0,473.4 328.0,473.1 329.0,472.8 330.0,472.5 331.0,472.1 332.0,471.8 332.9,471.4 333.9,471.1 334.9,470.7 335.9,470.3 336.9,469.9 337.8,469.5 338.8,469.1 339.8,468.6 340.8,468.2 341.8,467.7 342.8,467.2 343.7,466.7 344.7,466.2 345.7,465.7 346.7,465.1 347.7,464.6 348.7,464.0 349.6,463.4 350.6,462.8 351.6,462.2 352.6,461.6 353.6,460.9 354.5,460.2 355.5,459.6 356.5,458.9 357.5,458.2 358.5,457.5 359.5,456.7 360.4,456.0 361.4,455.2 362.4,454.4 363.4,453.7 364.4,452.9 365.4,452.1 366.3,451.2 367.3,450.4 368.3,449.6 369.3,448.7 370.3,447.9 371.2,447.0 372.2,446.1 373.2,445.3 374.2,444.4 375.2,443.5 376.2,442.6 377.1,441.7 378.1,440.8 379.1,439.9 380.1,439.0 381.1,438.1 382.1,437.3 383.0,436.4 384.0,435.5 385.0,434.6 386.0,433.7 387.0,432.8 388.0,432.0 388.9,431.1 389.9,430.3 390.9,429.4 391.9,428.6 392.9,427.7 393.8,426.9 394.8,426.1 395.8,425.3 396.8,424.5 397.8,423.8 398.8,423.0 399.7,422.3 400.7,421.5 401.7,420.8 402.7,420.1 403.7,419.4 404.7,418.7 405.6,418.1 406.6,417.4 407.6,416.8 408.6,416.2 409.6,415.6 410.5,415.0 411.5,414.4 412.5,413.9 413.5,413.3 414.5,412.8 415.5,412.3 416.4,411.8 417.4,411.3 418.4,410.8 419.4,410.4 420.4,409.9 421.4,409.5 422.3,409.1 423.3,408.7 424.3,408.3 425.3,407.9 426.3,407.5 427.2,407.2 428.2,406.8 429.2,406.5 430.2,406.2 431.2,405.9 432.2,405.6 433.1,405.3 434.1,405.0 435.1,404.8 436.1,404.5 437.1,404.3 438.1,404.0 439.0,403.8 440.0,403.6 441.0,403.4 442.0,403.1 443.0,402.9 443.9,402.8 444.9,402.6 445.9,402.4 446.9,402.2 447.9,402.1 448.9,401.9 449.8,401.8 450.8,401.6 451.8,401.5 452.8,401.3 453.8,401.2 454.8,401.1 455.7,401.0 456.7,400.9 457.7,400.7 458.7,400.6 459.7,400.5 460.7,400.4 461.6,400.4 462.6,400.3 463.6,400.2 464.6,400.1 465.6,400.0 466.5,399.9 467.5,399.9 468.5,399.8 469.5,399.7 470.5,399.7 471.5,399.6 472.4,399.5 473.4,399.5 474.4,399.4 475.4,399.4 476.4,399.3 477.4,399.3 478.3,399.2 479.3,399.2 480.3,399.2 481.3,399.1 482.3,399.1 483.2,399.0 484.2,399.0 485.2,399.0 486.2,398.9 487.2,398.9 488.2,398.9 489.1,398.9 490.1,398.8 491.1,398.8 492.1,398.8 493.1,398.7 494.1,398.7 495.0,398.7 496.0,398.7 497.0,398.7" fill="none" stroke="#000" stroke-width="3.3" stroke-dasharray="16.5,4.5,3.5,4.5" stroke-dashoffset="21"/>
<polyline points="262.2,421.9 263.2,422.0 264.2,421.9 265.1,422.2 266.1,420.9 267.1,420.8 268.1,419.7 269.1,419.5 270.1,418.0 271.0,417.0 272.0,416.3 273.0,414.2 274.0,413.6 275.0,411.7 276.0,410.8 276.9,411.4 277.9,411.6 278.9,411.7 279.9,411.9 280.9,410.2 281.8,408.6 282.8,407.5 283.8,406.3 284.8,407.3 285.8,406.5 286.8,407.2 287.7,407.0 288.7,406.6 289.7,406.3 290.7,406.4 291.7,405.2 292.7,403.7 293.6,402.9 294.6,402.5 295.6,401.7 296.6,403.0 297.6,402.6 298.5,403.6 299.5,403.1 300.5,403.5 301.5,403.0 302.5,402.0 303.5,400.9 304.4,400.8 305.4,400.0 306.4,399.6 307.4,398.2 308.4,398.1 309.4,397.4 310.3,397.6 311.3,396.7 312.3,398.9 313.3,398.9 314.3,399.1 315.3,399.8 316.2,399.7 317.2,399.2 318.2,399.6 319.2,399.1 320.2,398.3 321.1,399.1 322.1,400.6 323.1,401.5 324.1,402.4 325.1,402.8 326.1,403.9 327.0,403.9 328.0,403.3 329.0,403.5 330.0,404.7 331.0,405.6 332.0,406.5 332.9,406.9 333.9,408.2 334.9,407.8 335.9,409.1 336.9,409.2 337.8,409.2 338.8,410.0 339.8,411.5 340.8,411.0 341.8,411.2 342.8,412.4 343.7,413.0 344.7,413.3 345.7,414.5 346.7,413.9 347.7,416.3 348.7,416.6 349.6,417.0 350.6,417.5 351.6,417.7 352.6,418.1 353.6,418.4 354.5,417.6 355.5,418.6 356.5,417.4 357.5,418.0 358.5,418.3 359.5,419.0 360.4,420.0 361.4,419.9 362.4,419.4 363.4,419.6 364.4,420.1 365.4,419.1 366.3,419.1 367.3,420.7 368.3,420.4 369.3,419.9 370.3,420.9 371.2,421.0 372.2,420.5 373.2,419.9 374.2,419.1 375.2,420.2 376.2,421.0 377.1,422.7 378.1,423.3 379.1,422.8 380.1,421.5 381.1,421.0 382.1,420.6 383.0,420.3 384.0,420.6 385.0,420.5 386.0,419.2 387.0,418.0 388.0,416.7 388.9,415.9 389.9,414.9 390.9,415.1 391.9,413.6 392.9,415.0 393.8,416.2 394.8,416.9 395.8,417.0 396.8,415.7 397.8,415.0 398.8,413.2 399.7,412.8 400.7,412.1 401.7,410.3 402.7,409.9 403.7,408.6 404.7,407.7 405.6,407.4 406.6,408.0 407.6,407.5 408.6,406.2 409.6,406.6 410.5,406.7 411.5,406.3 412.5,405.8 413.5,406.0 414.5,406.0 415.5,405.4 416.4,404.8 417.4,405.0 418.4,404.8 419.4,404.0 420.4,404.2 421.4,403.8 422.3,403.8 423.3,402.9 424.3,403.6 425.3,402.7 426.3,402.2 427.2,402.2 428.2,403.4 429.2,405.5 430.2,407.3 431.2,407.3 432.2,406.1 433.1,404.7 434.1,404.4 435.1,405.8 436.1,406.5 437.1,407.3 438.1,407.2 439.0,407.2 440.0,406.6 441.0,406.9 442.0,407.4 443.0,407.2 443.9,409.6 444.9,409.6 445.9,410.0 446.9,410.8 447.9,411.7 448.9,411.5 449.8,411.6 450.8,411.8 451.8,413.3 452.8,414.0 453.8,415.8 454.8,417.2 455.7,418.0 456.7,418.8 457.7,419.7 458.7,421.4 459.7,422.1 460.7,423.3 461.6,424.6 462.6,425.2 463.6,426.3 464.6,426.7 465.6,426.9 466.5,428.7 467.5,429.0 468.5,430.3 469.5,431.2 470.5,432.7 471.5,433.3 472.4,433.8 473.4,434.9 474.4,436.3 475.4,438.1 476.4,439.1 477.4,439.7 478.3,439.5 479.3,440.1 480.3,440.8 481.3,441.6 482.3,443.5 483.2,445.2 484.2,445.8 485.2,446.9 486.2,447.7 487.2,447.3 488.2,448.3 489.1,449.5 490.1,449.2 491.1,449.5 492.1,450.8 493.1,451.5 494.1,452.4 495.0,453.5 496.0,454.4 497.0,455.2" fill="none" stroke="#dd0000" stroke-width="3.6" stroke-linejoin="round"/>
<polyline points="262.2,501.2 263.2,501.1 264.2,501.1 265.1,501.1 266.1,501.1 267.1,501.1 268.1,501.1 269.1,501.0 270.1,501.0 271.0,501.0 272.0,501.0 273.0,500.9 274.0,500.9 275.0,500.9 276.0,500.8 276.9,500.8 277.9,500.8 278.9,500.7 279.9,500.7 280.9,500.6 281.8,500.6 282.8,500.5 283.8,500.4 284.8,500.3 285.8,500.3 286.8,500.2 287.7,500.1 288.7,500.0 289.7,499.9 290.7,499.7 291.7,499.6 292.7,499.5 293.6,499.3 294.6,499.2 295.6,499.0 296.6,498.8 297.6,498.6 298.5,498.4 299.5,498.1 300.5,497.9 301.5,497.6 302.5,497.3 303.5,497.0 304.4,496.6 305.4,496.3 306.4,495.9 307.4,495.5 308.4,495.0 309.4,494.6 310.3,494.0 311.3,493.5 312.3,492.9 313.3,492.3 314.3,491.6 315.3,490.9 316.2,490.2 317.2,489.4 318.2,488.6 319.2,487.7 320.2,486.7 321.1,485.7 322.1,484.7 323.1,483.6 324.1,482.4 325.1,481.2 326.1,479.9 327.0,478.6 328.0,477.1 329.0,475.7 330.0,474.1 331.0,472.5 332.0,470.8 332.9,469.1 333.9,467.3 334.9,465.4 335.9,463.5 336.9,461.5 337.8,459.4 338.8,457.3 339.8,455.1 340.8,452.9 341.8,450.7 342.8,448.4 343.7,446.0 344.7,443.6 345.7,441.3 346.7,438.8 347.7,436.4 348.7,434.0 349.6,431.6 350.6,429.2 351.6,426.8 352.6,424.5 353.6,422.2 354.5,419.9 355.5,417.7 356.5,415.6 357.5,413.5 358.5,411.6 359.5,409.7 360.4,408.0 361.4,406.4 362.4,404.9 363.4,403.5 364.4,402.3 365.4,401.2 366.3,400.3 367.3,399.5 368.3,398.9 369.3,398.5 370.3,398.3 371.2,398.2 372.2,398.3 373.2,398.6 374.2,399.0 375.2,399.6 376.2,400.4 377.1,401.4 378.1,402.5 379.1,403.7 380.1,405.1 381.1,406.7 382.1,408.3 383.0,410.1 384.0,412.0 385.0,414.0 386.0,416.1 387.0,418.3 388.0,420.5 388.9,422.8 389.9,425.2 390.9,427.6 391.9,430.1 392.9,432.5 393.8,435.0 394.8,437.5 395.8,439.9 396.8,442.4 397.8,444.8 398.8,447.2 399.7,449.6 400.7,451.9 401.7,454.2 402.7,456.5 403.7,458.6 404.7,460.8 405.6,462.8 406.6,464.8 407.6,466.8 408.6,468.6 409.6,470.4 410.5,472.2 411.5,473.8 412.5,475.4 413.5,476.9 414.5,478.4 415.5,479.8 416.4,481.1 417.4,482.3 418.4,483.5 419.4,484.7 420.4,485.7 421.4,486.7 422.3,487.7 423.3,488.6 424.3,489.5 425.3,490.3 426.3,491.0 427.2,491.7 428.2,492.4 429.2,493.0 430.2,493.6 431.2,494.1 432.2,494.6 433.1,495.1 434.1,495.6 435.1,496.0 436.1,496.4 437.1,496.7 438.1,497.1 439.0,497.4 440.0,497.7 441.0,497.9 442.0,498.2 443.0,498.4 443.9,498.7 444.9,498.9 445.9,499.0 446.9,499.2 447.9,499.4 448.9,499.5 449.8,499.7 450.8,499.8 451.8,499.9 452.8,500.0 453.8,500.1 454.8,500.2 455.7,500.3 456.7,500.4 457.7,500.4 458.7,500.5 459.7,500.6 460.7,500.6 461.6,500.7 462.6,500.7 463.6,500.8 464.6,500.8 465.6,500.9 466.5,500.9 467.5,500.9 468.5,501.0 469.5,501.0 470.5,501.0 471.5,501.0 472.4,501.1 473.4,501.1 474.4,501.1 475.4,501.1 476.4,501.1 477.4,501.1 478.3,501.2 479.3,501.2 480.3,501.2 481.3,501.2 482.3,501.2 483.2,501.2 484.2,501.2 485.2,501.2 486.2,501.2 487.2,501.2 488.2,501.2 489.1,501.2 490.1,501.2 491.1,501.3 492.1,501.3 493.1,501.3 494.1,501.3 495.0,501.3 496.0,501.3 497.0,501.3" fill="none" stroke="#0000cc" stroke-width="3.4" stroke-dasharray="20.5,8" stroke-dashoffset="0"/>
<line x1="518.3" y1="357.0" x2="518.3" y2="511.9" stroke="#666" stroke-width="1.1"/>
<line x1="517.8" y1="511.9" x2="756.0" y2="511.9" stroke="#666" stroke-width="1.1"/>
<line x1="518.3" y1="398.0" x2="520.8" y2="398.0" stroke="#666" stroke-width="1"/>
<line x1="518.3" y1="501.0" x2="520.8" y2="501.0" stroke="#666" stroke-width="1"/>
<text x="529.8" y="367.8" font-size="14.5" font-weight="bold">F</text>
<text x="545.9" y="375.6" font-size="13.5">N = 15</text>
<text x="545.9" y="391.3" font-size="13.5">τ = 125 ms</text>
<polyline points="520.5,480.0 521.5,480.0 522.5,480.0 523.4,480.0 524.4,480.0 525.4,479.9 526.4,479.9 527.3,479.9 528.3,479.9 529.3,479.8 530.3,479.8 531.2,479.8 532.2,479.7 533.2,479.7 534.2,479.7 535.2,479.6 536.1,479.6 537.1,479.5 538.1,479.5 539.1,479.5 540.0,479.4 541.0,479.4 542.0,479.3 543.0,479.3 543.9,479.2 544.9,479.2 545.9,479.1 546.9,479.0 547.9,479.0 548.8,478.9 549.8,478.8 550.8,478.8 551.8,478.7 552.7,478.6 553.7,478.5 554.7,478.4 555.7,478.4 556.6,478.3 557.6,478.2 558.6,478.1 559.6,478.0 560.6,477.8 561.5,477.7 562.5,477.6 563.5,477.5 564.5,477.4 565.4,477.2 566.4,477.1 567.4,476.9 568.4,476.8 569.3,476.6 570.3,476.5 571.3,476.3 572.3,476.1 573.3,475.9 574.2,475.8 575.2,475.6 576.2,475.4 577.2,475.1 578.1,474.9 579.1,474.7 580.1,474.5 581.1,474.2 582.1,473.9 583.0,473.7 584.0,473.4 585.0,473.1 586.0,472.8 586.9,472.5 587.9,472.2 588.9,471.9 589.9,471.5 590.8,471.2 591.8,470.8 592.8,470.4 593.8,470.0 594.8,469.6 595.7,469.2 596.7,468.8 597.7,468.4 598.7,467.9 599.6,467.4 600.6,466.9 601.6,466.4 602.6,465.9 603.5,465.4 604.5,464.9 605.5,464.3 606.5,463.7 607.5,463.1 608.4,462.5 609.4,461.9 610.4,461.3 611.4,460.6 612.3,460.0 613.3,459.3 614.3,458.6 615.3,457.9 616.2,457.2 617.2,456.5 618.2,455.7 619.2,455.0 620.2,454.2 621.1,453.4 622.1,452.6 623.1,451.8 624.1,451.0 625.0,450.2 626.0,449.3 627.0,448.5 628.0,447.6 628.9,446.8 629.9,445.9 630.9,445.0 631.9,444.1 632.9,443.3 633.8,442.4 634.8,441.5 635.8,440.6 636.8,439.7 637.7,438.8 638.7,437.9 639.7,437.0 640.7,436.1 641.6,435.2 642.6,434.4 643.6,433.5 644.6,432.6 645.6,431.7 646.5,430.9 647.5,430.0 648.5,429.2 649.5,428.3 650.4,427.5 651.4,426.7 652.4,425.9 653.4,425.1 654.3,424.3 655.3,423.5 656.3,422.8 657.3,422.0 658.3,421.3 659.2,420.6 660.2,419.9 661.2,419.2 662.2,418.5 663.1,417.9 664.1,417.2 665.1,416.6 666.1,416.0 667.0,415.4 668.0,414.8 669.0,414.2 670.0,413.6 671.0,413.1 671.9,412.6 672.9,412.1 673.9,411.6 674.9,411.1 675.8,410.6 676.8,410.2 677.8,409.7 678.8,409.3 679.7,408.9 680.7,408.5 681.7,408.1 682.7,407.7 683.7,407.3 684.6,407.0 685.6,406.6 686.6,406.3 687.6,406.0 688.5,405.7 689.5,405.4 690.5,405.1 691.5,404.8 692.4,404.6 693.4,404.3 694.4,404.1 695.4,403.8 696.4,403.6 697.3,403.4 698.3,403.1 699.3,402.9 700.3,402.7 701.2,402.6 702.2,402.4 703.2,402.2 704.2,402.0 705.2,401.9 706.1,401.7 707.1,401.6 708.1,401.4 709.1,401.3 710.0,401.1 711.0,401.0 712.0,400.9 713.0,400.8 713.9,400.7 714.9,400.5 715.9,400.4 716.9,400.3 717.9,400.2 718.8,400.2 719.8,400.1 720.8,400.0 721.8,399.9 722.7,399.8 723.7,399.7 724.7,399.7 725.7,399.6 726.6,399.5 727.6,399.5 728.6,399.4 729.6,399.3 730.6,399.3 731.5,399.2 732.5,399.2 733.5,399.1 734.5,399.1 735.4,399.0 736.4,399.0 737.4,399.0 738.4,398.9 739.3,398.9 740.3,398.8 741.3,398.8 742.3,398.8 743.3,398.7 744.2,398.7 745.2,398.7 746.2,398.7 747.2,398.6 748.1,398.6 749.1,398.6 750.1,398.5 751.1,398.5 752.0,398.5 753.0,398.5 754.0,398.5" fill="none" stroke="#000" stroke-width="3.3" stroke-dasharray="16.5,4.5,3.5,4.5" stroke-dashoffset="21"/>
<polyline points="520.5,476.6 521.5,475.8 522.5,475.3 523.4,474.0 524.4,472.1 525.4,472.2 526.4,470.1 527.3,469.3 528.3,467.9 529.3,466.7 530.3,466.2 531.2,465.2 532.2,466.0 533.2,464.7 534.2,465.3 535.2,463.6 536.1,462.3 537.1,461.9 538.1,459.7 539.1,458.2 540.0,456.5 541.0,455.9 542.0,454.9 543.0,454.8 543.9,452.7 544.9,451.6 545.9,450.5 546.9,448.7 547.9,447.2 548.8,444.7 549.8,443.0 550.8,442.9 551.8,441.7 552.7,440.8 553.7,440.2 554.7,437.9 555.7,437.3 556.6,434.4 557.6,431.8 558.6,429.0 559.6,427.7 560.6,426.4 561.5,425.7 562.5,424.6 563.5,422.7 564.5,421.7 565.4,420.6 566.4,419.1 567.4,417.1 568.4,416.1 569.3,414.4 570.3,413.3 571.3,411.4 572.3,410.2 573.3,408.6 574.2,409.2 575.2,408.1 576.2,406.6 577.2,407.2 578.1,407.5 579.1,407.0 580.1,407.6 581.1,406.6 582.1,405.4 583.0,403.5 584.0,402.9 585.0,403.0 586.0,402.3 586.9,401.2 587.9,401.0 588.9,401.3 589.9,400.8 590.8,400.4 591.8,400.8 592.8,399.7 593.8,399.0 594.8,399.1 595.7,399.5 596.7,398.4 597.7,398.3 598.7,398.8 599.6,401.1 600.6,400.0 601.6,402.0 602.6,401.6 603.5,402.0 604.5,402.1 605.5,401.5 606.5,401.1 607.5,399.4 608.4,400.8 609.4,402.9 610.4,402.0 611.4,404.1 612.3,404.3 613.3,406.0 614.3,405.7 615.3,405.7 616.2,405.5 617.2,405.9 618.2,406.1 619.2,406.0 620.2,407.1 621.1,407.2 622.1,407.0 623.1,408.2 624.1,408.6 625.0,409.2 626.0,407.9 627.0,407.7 628.0,407.6 628.9,406.9 629.9,408.2 630.9,408.4 631.9,408.4 632.9,409.4 633.8,409.1 634.8,409.6 635.8,408.9 636.8,407.7 637.7,408.1 638.7,407.0 639.7,406.9 640.7,406.6 641.6,406.1 642.6,404.6 643.6,404.5 644.6,405.6 645.6,406.4 646.5,405.6 647.5,405.4 648.5,404.4 649.5,404.1 650.4,404.1 651.4,404.1 652.4,404.8 653.4,404.3 654.3,403.6 655.3,401.9 656.3,401.1 657.3,401.7 658.3,403.5 659.2,404.7 660.2,405.4 661.2,405.6 662.2,404.9 663.1,404.5 664.1,404.5 665.1,405.3 666.1,406.7 667.0,408.2 668.0,408.1 669.0,409.8 670.0,409.2 671.0,410.6 671.9,411.9 672.9,410.3 673.9,411.4 674.9,413.4 675.8,414.1 676.8,415.4 677.8,416.3 678.8,418.1 679.7,418.8 680.7,419.4 681.7,421.0 682.7,422.3 683.7,424.4 684.6,425.1 685.6,428.0 686.6,429.3 687.6,431.9 688.5,433.0 689.5,433.2 690.5,435.5 691.5,436.1 692.4,437.2 693.4,438.5 694.4,439.1 695.4,440.3 696.4,441.5 697.3,442.2 698.3,443.4 699.3,444.8 700.3,445.8 701.2,446.2 702.2,447.6 703.2,448.8 704.2,449.7 705.2,452.0 706.1,453.4 707.1,454.3 708.1,455.5 709.1,456.4 710.0,457.4 711.0,458.0 712.0,459.0 713.0,460.0 713.9,462.1 714.9,463.6 715.9,465.7 716.9,466.3 717.9,468.5 718.8,469.7 719.8,471.2 720.8,471.8 721.8,473.3 722.7,473.8 723.7,474.0 724.7,476.7 725.7,476.7 726.6,476.9 727.6,477.1 728.6,476.6 729.6,476.0 730.6,478.5 731.5,479.8 732.5,482.0 733.5,482.8 734.5,482.4 735.4,482.0 736.4,481.5 737.4,482.0 738.4,483.6 739.3,483.0 740.3,484.0 741.3,484.3 742.3,484.8 743.3,484.8 744.2,485.1 745.2,485.9 746.2,487.6 747.2,487.4 748.1,487.5 749.1,490.5 750.1,490.2 751.1,491.2 752.0,491.9 753.0,491.7 754.0,493.1" fill="none" stroke="#dd0000" stroke-width="3.6" stroke-linejoin="round"/>
<polyline points="520.5,500.9 521.5,500.8 522.5,500.8 523.4,500.8 524.4,500.8 525.4,500.8 526.4,500.8 527.3,500.7 528.3,500.7 529.3,500.7 530.3,500.7 531.2,500.6 532.2,500.6 533.2,500.6 534.2,500.5 535.2,500.5 536.1,500.5 537.1,500.4 538.1,500.4 539.1,500.3 540.0,500.3 541.0,500.2 542.0,500.1 543.0,500.0 543.9,500.0 544.9,499.9 545.9,499.8 546.9,499.7 547.9,499.6 548.8,499.4 549.8,499.3 550.8,499.2 551.8,499.0 552.7,498.9 553.7,498.7 554.7,498.5 555.7,498.3 556.6,498.1 557.6,497.8 558.6,497.6 559.6,497.3 560.6,497.0 561.5,496.7 562.5,496.4 563.5,496.0 564.5,495.6 565.4,495.2 566.4,494.7 567.4,494.3 568.4,493.7 569.3,493.2 570.3,492.6 571.3,492.0 572.3,491.3 573.3,490.6 574.2,489.9 575.2,489.1 576.2,488.3 577.2,487.4 578.1,486.4 579.1,485.5 580.1,484.4 581.1,483.3 582.1,482.1 583.0,480.9 584.0,479.6 585.0,478.3 586.0,476.9 586.9,475.4 587.9,473.8 588.9,472.2 589.9,470.6 590.8,468.8 591.8,467.0 592.8,465.1 593.8,463.2 594.8,461.2 595.7,459.1 596.7,457.0 597.7,454.9 598.7,452.7 599.6,450.4 600.6,448.1 601.6,445.8 602.6,443.4 603.5,441.0 604.5,438.6 605.5,436.2 606.5,433.8 607.5,431.4 608.4,429.0 609.4,426.6 610.4,424.2 611.4,421.9 612.3,419.7 613.3,417.5 614.3,415.4 615.3,413.3 616.2,411.4 617.2,409.5 618.2,407.8 619.2,406.2 620.2,404.7 621.1,403.3 622.1,402.1 623.1,401.0 624.1,400.1 625.0,399.3 626.0,398.7 627.0,398.3 628.0,398.1 628.9,398.0 629.9,398.1 630.9,398.4 631.9,398.8 632.9,399.4 633.8,400.2 634.8,401.2 635.8,402.3 636.8,403.5 637.7,404.9 638.7,406.4 639.7,408.1 640.7,409.9 641.6,411.8 642.6,413.8 643.6,415.9 644.6,418.1 645.6,420.3 646.5,422.6 647.5,425.0 648.5,427.4 649.5,429.8 650.4,432.3 651.4,434.7 652.4,437.2 653.4,439.7 654.3,442.1 655.3,444.6 656.3,447.0 657.3,449.3 658.3,451.7 659.2,454.0 660.2,456.2 661.2,458.4 662.2,460.5 663.1,462.6 664.1,464.6 665.1,466.5 666.1,468.4 667.0,470.2 668.0,471.9 669.0,473.5 670.0,475.1 671.0,476.7 671.9,478.1 672.9,479.5 673.9,480.8 674.9,482.1 675.8,483.3 676.8,484.4 677.8,485.5 678.8,486.5 679.7,487.4 680.7,488.3 681.7,489.2 682.7,490.0 683.7,490.7 684.6,491.4 685.6,492.1 686.6,492.7 687.6,493.3 688.5,493.8 689.5,494.4 690.5,494.8 691.5,495.3 692.4,495.7 693.4,496.1 694.4,496.4 695.4,496.8 696.4,497.1 697.3,497.4 698.3,497.7 699.3,497.9 700.3,498.1 701.2,498.4 702.2,498.6 703.2,498.7 704.2,498.9 705.2,499.1 706.1,499.2 707.1,499.4 708.1,499.5 709.1,499.6 710.0,499.7 711.0,499.8 712.0,499.9 713.0,500.0 713.9,500.1 714.9,500.1 715.9,500.2 716.9,500.3 717.9,500.3 718.8,500.4 719.8,500.4 720.8,500.5 721.8,500.5 722.7,500.6 723.7,500.6 724.7,500.6 725.7,500.7 726.6,500.7 727.6,500.7 728.6,500.7 729.6,500.8 730.6,500.8 731.5,500.8 732.5,500.8 733.5,500.8 734.5,500.8 735.4,500.9 736.4,500.9 737.4,500.9 738.4,500.9 739.3,500.9 740.3,500.9 741.3,500.9 742.3,500.9 743.3,500.9 744.2,500.9 745.2,500.9 746.2,500.9 747.2,500.9 748.1,501.0 749.1,501.0 750.1,501.0 751.1,501.0 752.0,501.0 753.0,501.0 754.0,501.0" fill="none" stroke="#0000cc" stroke-width="3.4" stroke-dasharray="20.5,8" stroke-dashoffset="0"/>
<line x1="2.6" y1="535.0" x2="2.6" y2="689.0" stroke="#666" stroke-width="1.1"/>
<line x1="2.1" y1="689.0" x2="240.0" y2="689.0" stroke="#666" stroke-width="1.1"/>
<line x1="2.6" y1="575.8" x2="5.1" y2="575.8" stroke="#666" stroke-width="1"/>
<line x1="2.6" y1="679.5" x2="5.1" y2="679.5" stroke="#666" stroke-width="1"/>
<text x="11.8" y="541.6" font-size="14.5" font-weight="bold">G</text>
<text x="30.2" y="553.6" font-size="13.5">N = 35</text>
<text x="30.2" y="569.3" font-size="12.0">τ = 250 ms</text>
<polyline points="4.2,658.4 5.2,658.4 6.2,658.4 7.2,658.3 8.1,658.3 9.1,658.3 10.1,658.3 11.1,658.2 12.1,658.2 13.1,658.2 14.0,658.1 15.0,658.1 16.0,658.1 17.0,658.1 18.0,658.0 19.0,658.0 20.0,657.9 20.9,657.9 21.9,657.9 22.9,657.8 23.9,657.8 24.9,657.7 25.9,657.7 26.8,657.6 27.8,657.6 28.8,657.5 29.8,657.4 30.8,657.4 31.8,657.3 32.8,657.3 33.7,657.2 34.7,657.1 35.7,657.0 36.7,657.0 37.7,656.9 38.7,656.8 39.6,656.7 40.6,656.6 41.6,656.5 42.6,656.4 43.6,656.3 44.6,656.2 45.5,656.1 46.5,656.0 47.5,655.8 48.5,655.7 49.5,655.6 50.5,655.4 51.5,655.3 52.4,655.1 53.4,655.0 54.4,654.8 55.4,654.6 56.4,654.5 57.4,654.3 58.3,654.1 59.3,653.9 60.3,653.7 61.3,653.5 62.3,653.2 63.3,653.0 64.3,652.8 65.2,652.5 66.2,652.3 67.2,652.0 68.2,651.7 69.2,651.4 70.2,651.1 71.1,650.8 72.1,650.5 73.1,650.2 74.1,649.8 75.1,649.5 76.1,649.1 77.1,648.7 78.0,648.3 79.0,647.9 80.0,647.5 81.0,647.1 82.0,646.6 83.0,646.2 83.9,645.7 84.9,645.2 85.9,644.7 86.9,644.2 87.9,643.7 88.9,643.1 89.9,642.6 90.8,642.0 91.8,641.4 92.8,640.8 93.8,640.2 94.8,639.5 95.8,638.9 96.7,638.2 97.7,637.5 98.7,636.8 99.7,636.1 100.7,635.4 101.7,634.7 102.7,633.9 103.6,633.1 104.6,632.4 105.6,631.6 106.6,630.8 107.6,630.0 108.6,629.2 109.5,628.3 110.5,627.5 111.5,626.6 112.5,625.8 113.5,624.9 114.5,624.0 115.5,623.1 116.4,622.3 117.4,621.4 118.4,620.5 119.4,619.6 120.4,618.7 121.4,617.8 122.3,616.9 123.3,616.0 124.3,615.1 125.3,614.2 126.3,613.3 127.3,612.4 128.2,611.5 129.2,610.6 130.2,609.8 131.2,608.9 132.2,608.0 133.2,607.2 134.2,606.3 135.1,605.5 136.1,604.7 137.1,603.9 138.1,603.1 139.1,602.3 140.1,601.5 141.0,600.8 142.0,600.0 143.0,599.3 144.0,598.5 145.0,597.8 146.0,597.1 147.0,596.5 147.9,595.8 148.9,595.1 149.9,594.5 150.9,593.9 151.9,593.3 152.9,592.7 153.8,592.1 154.8,591.6 155.8,591.0 156.8,590.5 157.8,590.0 158.8,589.5 159.8,589.0 160.7,588.5 161.7,588.0 162.7,587.6 163.7,587.2 164.7,586.7 165.7,586.3 166.6,585.9 167.6,585.6 168.6,585.2 169.6,584.8 170.6,584.5 171.6,584.2 172.6,583.8 173.5,583.5 174.5,583.2 175.5,582.9 176.5,582.7 177.5,582.4 178.5,582.1 179.4,581.9 180.4,581.7 181.4,581.4 182.4,581.2 183.4,581.0 184.4,580.8 185.4,580.6 186.3,580.4 187.3,580.2 188.3,580.0 189.3,579.9 190.3,579.7 191.3,579.5 192.2,579.4 193.2,579.2 194.2,579.1 195.2,579.0 196.2,578.8 197.2,578.7 198.2,578.6 199.1,578.5 200.1,578.4 201.1,578.3 202.1,578.2 203.1,578.1 204.1,578.0 205.0,577.9 206.0,577.8 207.0,577.7 208.0,577.6 209.0,577.6 210.0,577.5 210.9,577.4 211.9,577.3 212.9,577.3 213.9,577.2 214.9,577.2 215.9,577.1 216.9,577.0 217.8,577.0 218.8,576.9 219.8,576.9 220.8,576.9 221.8,576.8 222.8,576.8 223.7,576.7 224.7,576.7 225.7,576.6 226.7,576.6 227.7,576.6 228.7,576.5 229.7,576.5 230.6,576.5 231.6,576.5 232.6,576.4 233.6,576.4 234.6,576.4 235.6,576.4 236.5,576.3 237.5,576.3 238.5,576.3 239.5,576.3" fill="none" stroke="#000" stroke-width="3.3" stroke-dasharray="16.5,4.5,3.5,4.5" stroke-dashoffset="21"/>
<polyline points="4.2,678.7 5.2,678.7 6.2,678.8 7.2,678.8 8.1,679.2 9.1,678.7 10.1,678.8 11.1,678.5 12.1,678.7 13.1,678.8 14.0,678.5 15.0,679.3 16.0,678.9 17.0,679.2 18.0,679.1 19.0,677.9 20.0,678.0 20.9,677.9 21.9,677.2 22.9,677.3 23.9,676.4 24.9,675.8 25.9,676.1 26.8,675.9 27.8,675.7 28.8,675.2 29.8,674.6 30.8,674.2 31.8,674.1 32.8,674.1 33.7,673.1 34.7,672.6 35.7,672.4 36.7,671.8 37.7,671.5 38.7,670.7 39.6,669.8 40.6,669.1 41.6,668.5 42.6,668.4 43.6,667.9 44.6,666.6 45.5,665.8 46.5,664.3 47.5,662.6 48.5,661.6 49.5,660.4 50.5,658.8 51.5,657.7 52.4,656.8 53.4,655.3 54.4,654.4 55.4,653.5 56.4,651.9 57.4,650.7 58.3,649.8 59.3,648.1 60.3,646.6 61.3,645.1 62.3,643.3 63.3,641.6 64.3,639.8 65.2,637.9 66.2,636.0 67.2,633.9 68.2,632.4 69.2,630.6 70.2,628.0 71.1,626.5 72.1,624.4 73.1,622.1 74.1,620.6 75.1,618.6 76.1,616.4 77.1,614.5 78.0,613.1 79.0,611.3 80.0,609.8 81.0,608.5 82.0,606.3 83.0,604.5 83.9,602.3 84.9,600.5 85.9,598.6 86.9,596.6 87.9,595.2 88.9,593.4 89.9,591.5 90.8,590.0 91.8,588.6 92.8,587.3 93.8,586.8 94.8,585.6 95.8,584.0 96.7,583.2 97.7,582.0 98.7,580.9 99.7,580.4 100.7,579.3 101.7,578.9 102.7,578.8 103.6,578.2 104.6,577.2 105.6,576.7 106.6,576.3 107.6,576.0 108.6,576.5 109.5,576.2 110.5,576.1 111.5,575.9 112.5,576.4 113.5,576.8 114.5,577.0 115.5,577.3 116.4,577.4 117.4,577.6 118.4,577.7 119.4,578.2 120.4,578.9 121.4,579.2 122.3,580.0 123.3,580.8 124.3,581.2 125.3,582.4 126.3,583.2 127.3,584.5 128.2,585.8 129.2,586.8 130.2,588.2 131.2,589.3 132.2,590.6 133.2,592.3 134.2,593.9 135.1,595.1 136.1,596.8 137.1,597.9 138.1,599.3 139.1,601.5 140.1,602.8 141.0,605.4 142.0,607.9 143.0,610.0 144.0,612.2 145.0,613.8 146.0,615.4 147.0,617.0 147.9,619.4 148.9,621.1 149.9,623.2 150.9,625.4 151.9,626.8 152.9,629.2 153.8,631.1 154.8,633.0 155.8,634.8 156.8,636.1 157.8,637.4 158.8,639.2 159.8,641.1 160.7,643.2 161.7,644.9 162.7,646.8 163.7,647.9 164.7,649.3 165.7,651.1 166.6,652.0 167.6,653.5 168.6,654.6 169.6,655.5 170.6,656.8 171.6,658.0 172.6,658.9 173.5,660.4 174.5,661.1 175.5,662.5 176.5,663.8 177.5,664.9 178.5,666.3 179.4,667.0 180.4,668.2 181.4,668.6 182.4,669.2 183.4,670.0 184.4,670.9 185.4,671.7 186.3,672.2 187.3,673.1 188.3,673.0 189.3,674.1 190.3,674.6 191.3,675.0 192.2,675.2 193.2,675.4 194.2,675.8 195.2,676.0 196.2,676.3 197.2,676.3 198.2,676.9 199.1,676.6 200.1,677.2 201.1,677.4 202.1,677.5 203.1,678.5 204.1,678.1 205.0,677.6 206.0,677.9 207.0,678.2 208.0,678.3 209.0,678.6 210.0,678.3 210.9,677.6 211.9,678.2 212.9,678.6 213.9,679.3 214.9,680.0 215.9,679.6 216.9,679.7 217.8,678.8 218.8,678.5 219.8,678.9 220.8,678.6 221.8,678.8 222.8,678.7 223.7,678.8 224.7,679.0 225.7,679.1 226.7,679.4 227.7,679.3 228.7,679.1 229.7,679.4 230.6,679.6 231.6,679.5 232.6,680.0 233.6,680.0 234.6,679.6 235.6,679.3 236.5,678.9 237.5,679.4 238.5,679.3 239.5,679.5" fill="none" stroke="#dd0000" stroke-width="3.6" stroke-linejoin="round"/>
<polyline points="4.2,679.4 5.2,679.3 6.2,679.3 7.2,679.3 8.1,679.3 9.1,679.3 10.1,679.3 11.1,679.2 12.1,679.2 13.1,679.2 14.0,679.2 15.0,679.1 16.0,679.1 17.0,679.1 18.0,679.0 19.0,679.0 20.0,679.0 20.9,678.9 21.9,678.9 22.9,678.8 23.9,678.7 24.9,678.7 25.9,678.6 26.8,678.5 27.8,678.5 28.8,678.4 29.8,678.3 30.8,678.2 31.8,678.1 32.8,677.9 33.7,677.8 34.7,677.7 35.7,677.5 36.7,677.3 37.7,677.2 38.7,677.0 39.6,676.8 40.6,676.5 41.6,676.3 42.6,676.1 43.6,675.8 44.6,675.5 45.5,675.2 46.5,674.8 47.5,674.5 48.5,674.1 49.5,673.6 50.5,673.2 51.5,672.7 52.4,672.2 53.4,671.7 54.4,671.1 55.4,670.4 56.4,669.8 57.4,669.1 58.3,668.3 59.3,667.5 60.3,666.7 61.3,665.8 62.3,664.8 63.3,663.8 64.3,662.8 65.2,661.7 66.2,660.5 67.2,659.3 68.2,658.0 69.2,656.6 70.2,655.2 71.1,653.7 72.1,652.2 73.1,650.5 74.1,648.8 75.1,647.1 76.1,645.3 77.1,643.4 78.0,641.4 79.0,639.4 80.0,637.4 81.0,635.2 82.0,633.1 83.0,630.8 83.9,628.6 84.9,626.2 85.9,623.9 86.9,621.5 87.9,619.1 88.9,616.7 89.9,614.2 90.8,611.8 91.8,609.4 92.8,607.0 93.8,604.6 94.8,602.2 95.8,599.9 96.7,597.6 97.7,595.4 98.7,593.3 99.7,591.2 100.7,589.3 101.7,587.4 102.7,585.6 103.6,584.0 104.6,582.5 105.6,581.1 106.6,579.9 107.6,578.8 108.6,577.9 109.5,577.1 110.5,576.6 111.5,576.1 112.5,575.9 113.5,575.8 114.5,575.9 115.5,576.2 116.4,576.6 117.4,577.2 118.4,578.0 119.4,579.0 120.4,580.1 121.4,581.3 122.3,582.8 123.3,584.3 124.3,586.0 125.3,587.8 126.3,589.7 127.3,591.7 128.2,593.8 129.2,596.0 130.2,598.3 131.2,600.6 132.2,603.0 133.2,605.4 134.2,607.8 135.1,610.3 136.1,612.8 137.1,615.3 138.1,617.8 139.1,620.2 140.1,622.7 141.0,625.1 142.0,627.5 143.0,629.8 144.0,632.1 145.0,634.4 146.0,636.6 147.0,638.7 147.9,640.8 148.9,642.8 149.9,644.8 150.9,646.6 151.9,648.4 152.9,650.2 153.8,651.9 154.8,653.5 155.8,655.0 156.8,656.4 157.8,657.8 158.8,659.2 159.8,660.4 160.7,661.6 161.7,662.8 162.7,663.8 163.7,664.9 164.7,665.8 165.7,666.7 166.6,667.6 167.6,668.4 168.6,669.1 169.6,669.9 170.6,670.5 171.6,671.2 172.6,671.7 173.5,672.3 174.5,672.8 175.5,673.3 176.5,673.7 177.5,674.2 178.5,674.5 179.4,674.9 180.4,675.2 181.4,675.6 182.4,675.9 183.4,676.1 184.4,676.4 185.4,676.6 186.3,676.8 187.3,677.0 188.3,677.2 189.3,677.4 190.3,677.6 191.3,677.7 192.2,677.9 193.2,678.0 194.2,678.1 195.2,678.2 196.2,678.3 197.2,678.4 198.2,678.5 199.1,678.6 200.1,678.6 201.1,678.7 202.1,678.8 203.1,678.8 204.1,678.9 205.0,678.9 206.0,679.0 207.0,679.0 208.0,679.1 209.0,679.1 210.0,679.1 210.9,679.2 211.9,679.2 212.9,679.2 213.9,679.2 214.9,679.3 215.9,679.3 216.9,679.3 217.8,679.3 218.8,679.3 219.8,679.3 220.8,679.4 221.8,679.4 222.8,679.4 223.7,679.4 224.7,679.4 225.7,679.4 226.7,679.4 227.7,679.4 228.7,679.4 229.7,679.4 230.6,679.4 231.6,679.4 232.6,679.4 233.6,679.5 234.6,679.5 235.6,679.5 236.5,679.5 237.5,679.5 238.5,679.5 239.5,679.5" fill="none" stroke="#0000cc" stroke-width="3.4" stroke-dasharray="20.5,8" stroke-dashoffset="0"/>
<line x1="260.8" y1="535.0" x2="260.8" y2="689.0" stroke="#666" stroke-width="1.1"/>
<line x1="260.3" y1="689.0" x2="498.7" y2="689.0" stroke="#666" stroke-width="1.1"/>
<line x1="260.8" y1="575.8" x2="263.3" y2="575.8" stroke="#666" stroke-width="1"/>
<line x1="260.8" y1="679.2" x2="263.3" y2="679.2" stroke="#666" stroke-width="1"/>
<text x="271.1" y="541.9" font-size="14.5" font-weight="bold">H</text>
<text x="288.4" y="553.6" font-size="13.5">N = 155</text>
<text x="288.4" y="569.3" font-size="13.5">τ = 1000 ms</text>
<polyline points="261.8,658.2 262.8,658.1 263.8,658.1 264.8,658.1 265.7,658.1 266.7,658.0 267.7,658.0 268.7,658.0 269.7,658.0 270.7,657.9 271.6,657.9 272.6,657.9 273.6,657.8 274.6,657.8 275.6,657.8 276.6,657.7 277.5,657.7 278.5,657.7 279.5,657.6 280.5,657.6 281.5,657.5 282.5,657.5 283.5,657.4 284.4,657.4 285.4,657.3 286.4,657.3 287.4,657.2 288.4,657.1 289.4,657.1 290.3,657.0 291.3,656.9 292.3,656.9 293.3,656.8 294.3,656.7 295.3,656.6 296.2,656.6 297.2,656.5 298.2,656.4 299.2,656.3 300.2,656.2 301.2,656.1 302.1,656.0 303.1,655.8 304.1,655.7 305.1,655.6 306.1,655.5 307.1,655.3 308.1,655.2 309.0,655.1 310.0,654.9 311.0,654.7 312.0,654.6 313.0,654.4 314.0,654.2 314.9,654.1 315.9,653.9 316.9,653.7 317.9,653.5 318.9,653.2 319.9,653.0 320.8,652.8 321.8,652.5 322.8,652.3 323.8,652.0 324.8,651.8 325.8,651.5 326.8,651.2 327.7,650.9 328.7,650.6 329.7,650.3 330.7,650.0 331.7,649.6 332.7,649.3 333.6,648.9 334.6,648.5 335.6,648.1 336.6,647.7 337.6,647.3 338.6,646.9 339.5,646.4 340.5,646.0 341.5,645.5 342.5,645.0 343.5,644.5 344.5,644.0 345.4,643.5 346.4,642.9 347.4,642.4 348.4,641.8 349.4,641.2 350.4,640.6 351.4,640.0 352.3,639.3 353.3,638.7 354.3,638.0 355.3,637.3 356.3,636.7 357.3,635.9 358.2,635.2 359.2,634.5 360.2,633.7 361.2,633.0 362.2,632.2 363.2,631.4 364.1,630.6 365.1,629.8 366.1,629.0 367.1,628.2 368.1,627.3 369.1,626.5 370.1,625.6 371.0,624.8 372.0,623.9 373.0,623.0 374.0,622.1 375.0,621.2 376.0,620.3 376.9,619.5 377.9,618.6 378.9,617.7 379.9,616.8 380.9,615.9 381.9,615.0 382.8,614.1 383.8,613.2 384.8,612.3 385.8,611.4 386.8,610.5 387.8,609.7 388.7,608.8 389.7,607.9 390.7,607.1 391.7,606.3 392.7,605.4 393.7,604.6 394.7,603.8 395.6,603.0 396.6,602.2 397.6,601.4 398.6,600.7 399.6,599.9 400.6,599.2 401.5,598.5 402.5,597.8 403.5,597.1 404.5,596.4 405.5,595.7 406.5,595.1 407.4,594.5 408.4,593.8 409.4,593.2 410.4,592.6 411.4,592.1 412.4,591.5 413.4,591.0 414.3,590.4 415.3,589.9 416.3,589.4 417.3,588.9 418.3,588.5 419.3,588.0 420.2,587.6 421.2,587.1 422.2,586.7 423.2,586.3 424.2,585.9 425.2,585.5 426.1,585.2 427.1,584.8 428.1,584.5 429.1,584.1 430.1,583.8 431.1,583.5 432.0,583.2 433.0,582.9 434.0,582.6 435.0,582.4 436.0,582.1 437.0,581.9 438.0,581.6 438.9,581.4 439.9,581.2 440.9,581.0 441.9,580.8 442.9,580.6 443.9,580.4 444.8,580.2 445.8,580.0 446.8,579.8 447.8,579.7 448.8,579.5 449.8,579.4 450.7,579.2 451.7,579.1 452.7,579.0 453.7,578.8 454.7,578.7 455.7,578.6 456.7,578.5 457.6,578.4 458.6,578.3 459.6,578.1 460.6,578.1 461.6,578.0 462.6,577.9 463.5,577.8 464.5,577.7 465.5,577.6 466.5,577.5 467.5,577.5 468.5,577.4 469.4,577.3 470.4,577.3 471.4,577.2 472.4,577.2 473.4,577.1 474.4,577.0 475.3,577.0 476.3,576.9 477.3,576.9 478.3,576.8 479.3,576.8 480.3,576.8 481.3,576.7 482.2,576.7 483.2,576.6 484.2,576.6 485.2,576.6 486.2,576.5 487.2,576.5 488.1,576.5 489.1,576.5 490.1,576.4 491.1,576.4 492.1,576.4 493.1,576.3 494.0,576.3 495.0,576.3 496.0,576.3 497.0,576.3" fill="none" stroke="#000" stroke-width="3.3" stroke-dasharray="16.5,4.5,3.5,4.5" stroke-dashoffset="21"/>
<polyline points="261.8,679.1 262.8,679.0 263.8,679.0 264.8,679.0 265.7,679.0 266.7,679.0 267.7,679.0 268.7,678.9 269.7,678.9 270.7,678.9 271.6,678.9 272.6,678.8 273.6,678.8 274.6,678.8 275.6,678.7 276.6,678.7 277.5,678.7 278.5,678.6 279.5,678.6 280.5,678.5 281.5,678.4 282.5,678.4 283.5,678.3 284.4,678.2 285.4,678.2 286.4,678.1 287.4,678.0 288.4,677.9 289.4,677.8 290.3,677.6 291.3,677.5 292.3,677.4 293.3,677.2 294.3,677.0 295.3,676.9 296.2,676.7 297.2,676.5 298.2,676.3 299.2,676.0 300.2,675.8 301.2,675.5 302.1,675.2 303.1,674.9 304.1,674.5 305.1,674.2 306.1,673.8 307.1,673.4 308.1,672.9 309.0,672.4 310.0,671.9 311.0,671.4 312.0,670.8 313.0,670.2 314.0,669.5 314.9,668.8 315.9,668.1 316.9,667.3 317.9,666.4 318.9,665.5 319.9,664.6 320.8,663.6 321.8,662.5 322.8,661.4 323.8,660.3 324.8,659.0 325.8,657.7 326.8,656.4 327.7,655.0 328.7,653.5 329.7,651.9 330.7,650.3 331.7,648.6 332.7,646.9 333.6,645.1 334.6,643.2 335.6,641.3 336.6,639.2 337.6,637.2 338.6,635.1 339.5,632.9 340.5,630.7 341.5,628.4 342.5,626.1 343.5,623.8 344.5,621.4 345.4,619.0 346.4,616.6 347.4,614.1 348.4,611.7 349.4,609.3 350.4,606.9 351.4,604.5 352.3,602.1 353.3,599.8 354.3,597.6 355.3,595.4 356.3,593.2 357.3,591.2 358.2,589.2 359.2,587.4 360.2,585.6 361.2,584.0 362.2,582.5 363.2,581.1 364.1,579.9 365.1,578.8 366.1,577.9 367.1,577.1 368.1,576.6 369.1,576.1 370.1,575.9 371.0,575.8 372.0,575.9 373.0,576.2 374.0,576.6 375.0,577.2 376.0,578.0 376.9,579.0 377.9,580.1 378.9,581.3 379.9,582.7 380.9,584.3 381.9,585.9 382.8,587.7 383.8,589.6 384.8,591.7 385.8,593.8 386.8,595.9 387.8,598.2 388.7,600.5 389.7,602.9 390.7,605.3 391.7,607.7 392.7,610.2 393.7,612.7 394.7,615.2 395.6,617.6 396.6,620.1 397.6,622.5 398.6,625.0 399.6,627.3 400.6,629.7 401.5,632.0 402.5,634.2 403.5,636.4 404.5,638.5 405.5,640.6 406.5,642.6 407.4,644.6 408.4,646.4 409.4,648.2 410.4,650.0 411.4,651.6 412.4,653.2 413.4,654.8 414.3,656.2 415.3,657.6 416.3,658.9 417.3,660.2 418.3,661.4 419.3,662.5 420.2,663.6 421.2,664.6 422.2,665.6 423.2,666.5 424.2,667.3 425.2,668.1 426.1,668.9 427.1,669.6 428.1,670.3 429.1,670.9 430.1,671.5 431.1,672.0 432.0,672.5 433.0,673.0 434.0,673.5 435.0,673.9 436.0,674.3 437.0,674.6 438.0,675.0 438.9,675.3 439.9,675.6 440.9,675.8 441.9,676.1 442.9,676.3 443.9,676.5 444.8,676.7 445.8,676.9 446.8,677.1 447.8,677.3 448.8,677.4 449.8,677.6 450.7,677.7 451.7,677.8 452.7,677.9 453.7,678.0 454.7,678.1 455.7,678.2 456.7,678.3 457.6,678.3 458.6,678.4 459.6,678.5 460.6,678.5 461.6,678.6 462.6,678.6 463.5,678.7 464.5,678.7 465.5,678.8 466.5,678.8 467.5,678.8 468.5,678.9 469.4,678.9 470.4,678.9 471.4,678.9 472.4,679.0 473.4,679.0 474.4,679.0 475.3,679.0 476.3,679.0 477.3,679.0 478.3,679.1 479.3,679.1 480.3,679.1 481.3,679.1 482.2,679.1 483.2,679.1 484.2,679.1 485.2,679.1 486.2,679.1 487.2,679.1 488.1,679.1 489.1,679.1 490.1,679.1 491.1,679.2 492.1,679.2 493.1,679.2 494.0,679.2 495.0,679.2 496.0,679.2 497.0,679.2" fill="none" stroke="#dd0000" stroke-width="3.6" stroke-linejoin="round"/>
<polyline points="261.8,679.1 262.8,679.0 263.8,679.0 264.8,679.0 265.7,679.0 266.7,679.0 267.7,679.0 268.7,678.9 269.7,678.9 270.7,678.9 271.6,678.9 272.6,678.8 273.6,678.8 274.6,678.8 275.6,678.7 276.6,678.7 277.5,678.7 278.5,678.6 279.5,678.6 280.5,678.5 281.5,678.4 282.5,678.4 283.5,678.3 284.4,678.2 285.4,678.2 286.4,678.1 287.4,678.0 288.4,677.9 289.4,677.8 290.3,677.6 291.3,677.5 292.3,677.4 293.3,677.2 294.3,677.0 295.3,676.9 296.2,676.7 297.2,676.5 298.2,676.3 299.2,676.0 300.2,675.8 301.2,675.5 302.1,675.2 303.1,674.9 304.1,674.5 305.1,674.2 306.1,673.8 307.1,673.4 308.1,672.9 309.0,672.4 310.0,671.9 311.0,671.4 312.0,670.8 313.0,670.2 314.0,669.5 314.9,668.8 315.9,668.1 316.9,667.3 317.9,666.4 318.9,665.5 319.9,664.6 320.8,663.6 321.8,662.5 322.8,661.4 323.8,660.3 324.8,659.0 325.8,657.7 326.8,656.4 327.7,655.0 328.7,653.5 329.7,651.9 330.7,650.3 331.7,648.6 332.7,646.9 333.6,645.1 334.6,643.2 335.6,641.3 336.6,639.2 337.6,637.2 338.6,635.1 339.5,632.9 340.5,630.7 341.5,628.4 342.5,626.1 343.5,623.8 344.5,621.4 345.4,619.0 346.4,616.6 347.4,614.1 348.4,611.7 349.4,609.3 350.4,606.9 351.4,604.5 352.3,602.1 353.3,599.8 354.3,597.6 355.3,595.4 356.3,593.2 357.3,591.2 358.2,589.2 359.2,587.4 360.2,585.6 361.2,584.0 362.2,582.5 363.2,581.1 364.1,579.9 365.1,578.8 366.1,577.9 367.1,577.1 368.1,576.6 369.1,576.1 370.1,575.9 371.0,575.8 372.0,575.9 373.0,576.2 374.0,576.6 375.0,577.2 376.0,578.0 376.9,579.0 377.9,580.1 378.9,581.3 379.9,582.7 380.9,584.3 381.9,585.9 382.8,587.7 383.8,589.6 384.8,591.7 385.8,593.8 386.8,595.9 387.8,598.2 388.7,600.5 389.7,602.9 390.7,605.3 391.7,607.7 392.7,610.2 393.7,612.7 394.7,615.2 395.6,617.6 396.6,620.1 397.6,622.5 398.6,625.0 399.6,627.3 400.6,629.7 401.5,632.0 402.5,634.2 403.5,636.4 404.5,638.5 405.5,640.6 406.5,642.6 407.4,644.6 408.4,646.4 409.4,648.2 410.4,650.0 411.4,651.6 412.4,653.2 413.4,654.8 414.3,656.2 415.3,657.6 416.3,658.9 417.3,660.2 418.3,661.4 419.3,662.5 420.2,663.6 421.2,664.6 422.2,665.6 423.2,666.5 424.2,667.3 425.2,668.1 426.1,668.9 427.1,669.6 428.1,670.3 429.1,670.9 430.1,671.5 431.1,672.0 432.0,672.5 433.0,673.0 434.0,673.5 435.0,673.9 436.0,674.3 437.0,674.6 438.0,675.0 438.9,675.3 439.9,675.6 440.9,675.8 441.9,676.1 442.9,676.3 443.9,676.5 444.8,676.7 445.8,676.9 446.8,677.1 447.8,677.3 448.8,677.4 449.8,677.6 450.7,677.7 451.7,677.8 452.7,677.9 453.7,678.0 454.7,678.1 455.7,678.2 456.7,678.3 457.6,678.3 458.6,678.4 459.6,678.5 460.6,678.5 461.6,678.6 462.6,678.6 463.5,678.7 464.5,678.7 465.5,678.8 466.5,678.8 467.5,678.8 468.5,678.9 469.4,678.9 470.4,678.9 471.4,678.9 472.4,679.0 473.4,679.0 474.4,679.0 475.3,679.0 476.3,679.0 477.3,679.0 478.3,679.1 479.3,679.1 480.3,679.1 481.3,679.1 482.2,679.1 483.2,679.1 484.2,679.1 485.2,679.1 486.2,679.1 487.2,679.1 488.1,679.1 489.1,679.1 490.1,679.1 491.1,679.2 492.1,679.2 493.1,679.2 494.0,679.2 495.0,679.2 496.0,679.2 497.0,679.2" fill="none" stroke="#0000cc" stroke-width="3.4" stroke-dasharray="20.5,8" stroke-dashoffset="0"/>
<text x="543.3" y="560.8" font-size="15.5" font-weight="bold">Key to panels B–H</text>
<line x1="543.9" y1="584.2" x2="609.2" y2="584.2" stroke="#dd0000" stroke-width="3.3"/>
<line x1="543.9" y1="604.4" x2="609.2" y2="604.4" stroke="#0000cc" stroke-width="3.2" stroke-dasharray="25.4,9.8" stroke-dashoffset="15.4"/>
<line x1="543.9" y1="636.8" x2="609.2" y2="636.8" stroke="#000" stroke-width="3.4" stroke-dasharray="18.5,4.5,3.6,4.5" stroke-dashoffset="23"/>
<text x="619.5" y="589.2" font-size="15.8">mSSI</text>
<text x="619.5" y="608.8" font-size="15.75">Singleton Fisher</text>
<text x="619.5" y="641.2" font-size="15.85">Tuning curve</text>
</svg>
</body></html>
